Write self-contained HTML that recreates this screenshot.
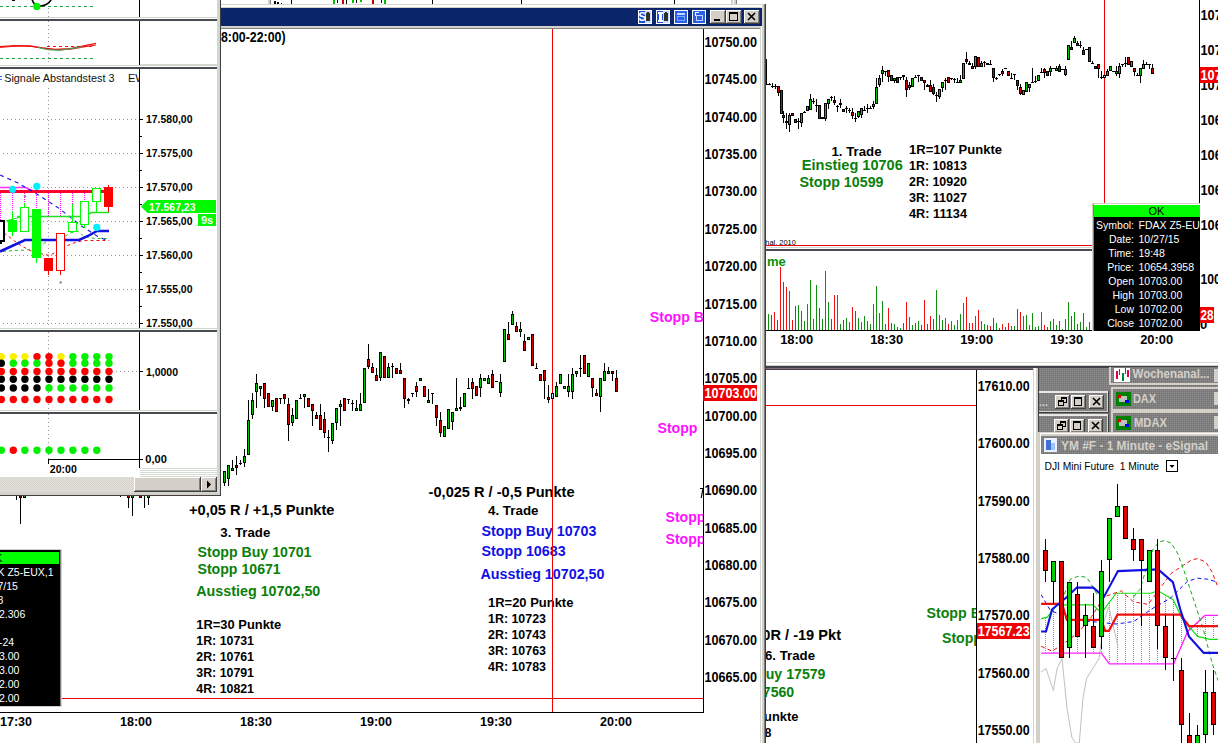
<!DOCTYPE html>
<html><head><meta charset="utf-8"><title>Charts</title>
<style>html,body{margin:0;padding:0;background:#fff;overflow:hidden}svg{display:block;font-family:"Liberation Sans",sans-serif}rect{shape-rendering:crispEdges}</style></head>
<body>
<svg width="1218" height="743" viewBox="0 0 1218 743">
<defs>
<pattern id="navy" width="4" height="4" patternUnits="userSpaceOnUse"><rect width="4" height="4" fill="#0a246a"/><rect x="1" y="1" width="1" height="1" fill="#16308a"/><rect x="3" y="3" width="1" height="1" fill="#16308a"/></pattern>
<pattern id="mdi" width="2" height="2" patternUnits="userSpaceOnUse"><rect width="2" height="2" fill="#808080"/><rect x="0" y="0" width="1" height="1" fill="#8c8c8c"/><rect x="1" y="1" width="1" height="1" fill="#747474"/></pattern>
<pattern id="track" width="2" height="2" patternUnits="userSpaceOnUse"><rect width="2" height="2" fill="#e6e4df"/><rect x="0" y="0" width="1" height="1" fill="#d4d0c8"/><rect x="1" y="1" width="1" height="1" fill="#d4d0c8"/></pattern>
<clipPath id="clipLR"><rect x="766" y="367" width="210" height="376"/></clipPath><clipPath id="clipYM"><rect x="1041" y="474" width="177" height="269"/></clipPath><clipPath id="clipM"><rect x="0" y="29" width="703" height="683"/></clipPath><clipPath id="clipEV"><rect x="0" y="69" width="139" height="260"/></clipPath></defs>
<rect x="1104" y="0" width="1" height="204" fill="#f00000" />
<rect x="855" y="113" width="1" height="9" fill="#000" />
<rect x="854" y="118" width="3" height="1" fill="#000" />
<rect x="852" y="108" width="1" height="11" fill="#000" />
<rect x="851" y="112" width="3" height="4" fill="#000" />
<rect x="852" y="113" width="1" height="2" fill="#d40000" />
<rect x="849" y="108" width="1" height="5" fill="#000" />
<rect x="848" y="110" width="3" height="1" fill="#000" />
<rect x="846" y="106" width="1" height="7" fill="#000" />
<rect x="845" y="108" width="3" height="1" fill="#000" />
<rect x="843" y="109" width="1" height="3" fill="#000" />
<rect x="842" y="109" width="3" height="3" fill="#000" />
<rect x="843" y="110" width="1" height="1" fill="#d40000" />
<rect x="840" y="99" width="1" height="9" fill="#000" />
<rect x="839" y="103" width="3" height="2" fill="#000" />
<rect x="837" y="105" width="1" height="7" fill="#000" />
<rect x="836" y="106" width="3" height="1" fill="#000" />
<rect x="834" y="96" width="1" height="9" fill="#000" />
<rect x="833" y="100" width="3" height="3" fill="#000" />
<rect x="834" y="101" width="1" height="1" fill="#d40000" />
<rect x="831" y="96" width="1" height="5" fill="#000" />
<rect x="830" y="97" width="3" height="1" fill="#000" />
<rect x="828" y="99" width="1" height="10" fill="#000" />
<rect x="827" y="99" width="3" height="5" fill="#000" />
<rect x="828" y="100" width="1" height="3" fill="#00c400" />
<rect x="825" y="103" width="1" height="18" fill="#000" />
<rect x="824" y="103" width="3" height="16" fill="#000" />
<rect x="825" y="104" width="1" height="14" fill="#00c400" />
<rect x="822" y="117" width="1" height="2" fill="#000" />
<rect x="821" y="117" width="3" height="2" fill="#000" />
<rect x="819" y="105" width="1" height="14" fill="#000" />
<rect x="818" y="105" width="3" height="14" fill="#000" />
<rect x="819" y="106" width="1" height="12" fill="#d40000" />
<rect x="816" y="99" width="1" height="13" fill="#000" />
<rect x="815" y="105" width="3" height="1" fill="#000" />
<rect x="813" y="98" width="1" height="6" fill="#000" />
<rect x="812" y="101" width="3" height="1" fill="#000" />
<rect x="810" y="94" width="1" height="16" fill="#000" />
<rect x="809" y="99" width="3" height="11" fill="#000" />
<rect x="810" y="100" width="1" height="9" fill="#00c400" />
<rect x="807" y="106" width="1" height="5" fill="#000" />
<rect x="806" y="106" width="3" height="5" fill="#000" />
<rect x="807" y="107" width="1" height="3" fill="#00c400" />
<rect x="804" y="111" width="1" height="2" fill="#000" />
<rect x="803" y="112" width="3" height="1" fill="#000" />
<rect x="801" y="113" width="1" height="14" fill="#000" />
<rect x="800" y="113" width="3" height="10" fill="#000" />
<rect x="801" y="114" width="1" height="8" fill="#00c400" />
<rect x="798" y="118" width="1" height="11" fill="#000" />
<rect x="797" y="121" width="3" height="1" fill="#000" />
<rect x="795" y="119" width="1" height="4" fill="#000" />
<rect x="794" y="119" width="3" height="4" fill="#000" />
<rect x="795" y="120" width="1" height="2" fill="#d40000" />
<rect x="792" y="113" width="1" height="3" fill="#000" />
<rect x="791" y="113" width="3" height="3" fill="#000" />
<rect x="792" y="114" width="1" height="1" fill="#d40000" />
<rect x="789" y="113" width="1" height="19" fill="#000" />
<rect x="788" y="115" width="3" height="10" fill="#000" />
<rect x="789" y="116" width="1" height="8" fill="#00c400" />
<rect x="786" y="113" width="1" height="16" fill="#000" />
<rect x="785" y="121" width="3" height="2" fill="#000" />
<rect x="783" y="111" width="1" height="12" fill="#000" />
<rect x="782" y="115" width="3" height="3" fill="#000" />
<rect x="783" y="116" width="1" height="1" fill="#d40000" />
<rect x="781" y="90" width="1" height="24" fill="#000" />
<rect x="780" y="90" width="3" height="24" fill="#000" />
<rect x="781" y="91" width="1" height="22" fill="#d40000" />
<rect x="778" y="86" width="1" height="10" fill="#000" />
<rect x="777" y="86" width="3" height="7" fill="#000" />
<rect x="778" y="87" width="1" height="5" fill="#d40000" />
<rect x="775" y="84" width="1" height="5" fill="#000" />
<rect x="774" y="86" width="3" height="1" fill="#000" />
<rect x="772" y="83" width="1" height="5" fill="#000" />
<rect x="771" y="86" width="3" height="1" fill="#000" />
<rect x="769" y="83" width="1" height="2" fill="#000" />
<rect x="768" y="84" width="3" height="1" fill="#000" />
<rect x="766" y="59" width="1" height="25" fill="#000" />
<rect x="765" y="84" width="3" height="1" fill="#000" />
<rect x="858" y="111" width="1" height="7" fill="#000" />
<rect x="857" y="111" width="3" height="6" fill="#000" />
<rect x="858" y="112" width="1" height="4" fill="#00c400" />
<rect x="861" y="108" width="1" height="10" fill="#000" />
<rect x="860" y="108" width="3" height="7" fill="#000" />
<rect x="861" y="109" width="1" height="5" fill="#00c400" />
<rect x="864" y="106" width="1" height="5" fill="#000" />
<rect x="863" y="110" width="3" height="1" fill="#000" />
<rect x="867" y="104" width="1" height="9" fill="#000" />
<rect x="866" y="108" width="3" height="1" fill="#000" />
<rect x="870" y="106" width="1" height="2" fill="#000" />
<rect x="869" y="108" width="3" height="1" fill="#000" />
<rect x="873" y="101" width="1" height="8" fill="#000" />
<rect x="872" y="104" width="3" height="3" fill="#000" />
<rect x="873" y="105" width="1" height="1" fill="#00c400" />
<rect x="876" y="78" width="1" height="26" fill="#000" />
<rect x="875" y="87" width="3" height="17" fill="#000" />
<rect x="876" y="88" width="1" height="15" fill="#00c400" />
<rect x="879" y="75" width="1" height="12" fill="#000" />
<rect x="878" y="78" width="3" height="7" fill="#000" />
<rect x="879" y="79" width="1" height="5" fill="#00c400" />
<rect x="882" y="66" width="1" height="16" fill="#000" />
<rect x="881" y="70" width="3" height="4" fill="#000" />
<rect x="882" y="71" width="1" height="2" fill="#00c400" />
<rect x="885" y="71" width="1" height="5" fill="#000" />
<rect x="884" y="71" width="3" height="1" fill="#000" />
<rect x="888" y="70" width="1" height="12" fill="#000" />
<rect x="887" y="70" width="3" height="7" fill="#000" />
<rect x="888" y="71" width="1" height="5" fill="#d40000" />
<rect x="891" y="75" width="1" height="6" fill="#000" />
<rect x="890" y="75" width="3" height="6" fill="#000" />
<rect x="891" y="76" width="1" height="4" fill="#d40000" />
<rect x="894" y="78" width="1" height="5" fill="#000" />
<rect x="893" y="78" width="3" height="3" fill="#000" />
<rect x="894" y="79" width="1" height="1" fill="#00c400" />
<rect x="897" y="77" width="1" height="6" fill="#000" />
<rect x="896" y="77" width="3" height="6" fill="#000" />
<rect x="897" y="78" width="1" height="4" fill="#d40000" />
<rect x="900" y="77" width="1" height="3" fill="#000" />
<rect x="899" y="77" width="3" height="1" fill="#000" />
<rect x="903" y="75" width="1" height="5" fill="#000" />
<rect x="902" y="75" width="3" height="2" fill="#000" />
<rect x="906" y="77" width="1" height="20" fill="#000" />
<rect x="905" y="80" width="3" height="10" fill="#000" />
<rect x="906" y="81" width="1" height="8" fill="#d40000" />
<rect x="909" y="82" width="1" height="8" fill="#000" />
<rect x="908" y="85" width="3" height="3" fill="#000" />
<rect x="909" y="86" width="1" height="1" fill="#00c400" />
<rect x="912" y="78" width="1" height="9" fill="#000" />
<rect x="911" y="78" width="3" height="9" fill="#000" />
<rect x="912" y="79" width="1" height="7" fill="#00c400" />
<rect x="915" y="75" width="1" height="3" fill="#000" />
<rect x="914" y="77" width="3" height="1" fill="#000" />
<rect x="918" y="75" width="1" height="7" fill="#000" />
<rect x="917" y="75" width="3" height="1" fill="#000" />
<rect x="921" y="77" width="1" height="4" fill="#000" />
<rect x="920" y="77" width="3" height="4" fill="#000" />
<rect x="921" y="78" width="1" height="2" fill="#d40000" />
<rect x="924" y="80" width="1" height="10" fill="#000" />
<rect x="923" y="80" width="3" height="3" fill="#000" />
<rect x="924" y="81" width="1" height="1" fill="#d40000" />
<rect x="927" y="84" width="1" height="3" fill="#000" />
<rect x="926" y="85" width="3" height="2" fill="#000" />
<rect x="930" y="80" width="1" height="12" fill="#000" />
<rect x="929" y="85" width="3" height="7" fill="#000" />
<rect x="930" y="86" width="1" height="5" fill="#d40000" />
<rect x="933" y="84" width="1" height="11" fill="#000" />
<rect x="932" y="87" width="3" height="7" fill="#000" />
<rect x="933" y="88" width="1" height="5" fill="#d40000" />
<rect x="936" y="92" width="1" height="10" fill="#000" />
<rect x="935" y="95" width="3" height="1" fill="#000" />
<rect x="939" y="89" width="1" height="10" fill="#000" />
<rect x="938" y="89" width="3" height="8" fill="#000" />
<rect x="939" y="90" width="1" height="6" fill="#00c400" />
<rect x="942" y="82" width="1" height="10" fill="#000" />
<rect x="941" y="82" width="3" height="6" fill="#000" />
<rect x="942" y="83" width="1" height="4" fill="#00c400" />
<rect x="945" y="78" width="1" height="12" fill="#000" />
<rect x="944" y="80" width="3" height="1" fill="#000" />
<rect x="948" y="77" width="1" height="6" fill="#000" />
<rect x="947" y="77" width="3" height="6" fill="#000" />
<rect x="948" y="78" width="1" height="4" fill="#d40000" />
<rect x="951" y="78" width="1" height="2" fill="#000" />
<rect x="950" y="78" width="3" height="1" fill="#000" />
<rect x="954" y="78" width="1" height="5" fill="#000" />
<rect x="953" y="79" width="3" height="1" fill="#000" />
<rect x="957" y="78" width="1" height="5" fill="#000" />
<rect x="956" y="82" width="3" height="1" fill="#000" />
<rect x="960" y="75" width="1" height="8" fill="#000" />
<rect x="959" y="80" width="3" height="3" fill="#000" />
<rect x="960" y="81" width="1" height="1" fill="#00c400" />
<rect x="963" y="63" width="1" height="16" fill="#000" />
<rect x="962" y="63" width="3" height="16" fill="#000" />
<rect x="963" y="64" width="1" height="14" fill="#00c400" />
<rect x="966" y="52" width="1" height="12" fill="#000" />
<rect x="965" y="59" width="3" height="3" fill="#000" />
<rect x="966" y="60" width="1" height="1" fill="#d40000" />
<rect x="969" y="61" width="1" height="4" fill="#000" />
<rect x="968" y="63" width="3" height="2" fill="#000" />
<rect x="972" y="63" width="1" height="6" fill="#000" />
<rect x="971" y="66" width="3" height="3" fill="#000" />
<rect x="972" y="67" width="1" height="1" fill="#d40000" />
<rect x="975" y="56" width="1" height="13" fill="#000" />
<rect x="974" y="56" width="3" height="11" fill="#000" />
<rect x="975" y="57" width="1" height="9" fill="#00c400" />
<rect x="978" y="57" width="1" height="10" fill="#000" />
<rect x="977" y="57" width="3" height="10" fill="#000" />
<rect x="978" y="58" width="1" height="8" fill="#d40000" />
<rect x="981" y="61" width="1" height="6" fill="#000" />
<rect x="980" y="63" width="3" height="4" fill="#000" />
<rect x="981" y="64" width="1" height="2" fill="#00c400" />
<rect x="984" y="61" width="1" height="6" fill="#000" />
<rect x="983" y="62" width="3" height="1" fill="#000" />
<rect x="987" y="63" width="1" height="2" fill="#000" />
<rect x="986" y="63" width="3" height="2" fill="#000" />
<rect x="990" y="60" width="1" height="5" fill="#000" />
<rect x="989" y="64" width="3" height="1" fill="#000" />
<rect x="993" y="68" width="1" height="14" fill="#000" />
<rect x="992" y="68" width="3" height="10" fill="#000" />
<rect x="993" y="69" width="1" height="8" fill="#d40000" />
<rect x="996" y="77" width="1" height="3" fill="#000" />
<rect x="995" y="78" width="3" height="1" fill="#000" />
<rect x="999" y="74" width="1" height="2" fill="#000" />
<rect x="998" y="74" width="3" height="1" fill="#000" />
<rect x="1002" y="69" width="1" height="7" fill="#000" />
<rect x="1001" y="71" width="3" height="3" fill="#000" />
<rect x="1002" y="72" width="1" height="1" fill="#d40000" />
<rect x="1005" y="68" width="1" height="1" fill="#000" />
<rect x="1004" y="68" width="3" height="1" fill="#000" />
<rect x="1008" y="71" width="1" height="5" fill="#000" />
<rect x="1007" y="71" width="3" height="5" fill="#000" />
<rect x="1008" y="72" width="1" height="3" fill="#d40000" />
<rect x="1011" y="73" width="1" height="6" fill="#000" />
<rect x="1010" y="78" width="3" height="1" fill="#000" />
<rect x="1014" y="74" width="1" height="6" fill="#000" />
<rect x="1013" y="74" width="3" height="1" fill="#000" />
<rect x="1017" y="80" width="1" height="10" fill="#000" />
<rect x="1016" y="80" width="3" height="6" fill="#000" />
<rect x="1017" y="81" width="1" height="4" fill="#d40000" />
<rect x="1020" y="84" width="1" height="11" fill="#000" />
<rect x="1019" y="87" width="3" height="7" fill="#000" />
<rect x="1020" y="88" width="1" height="5" fill="#d40000" />
<rect x="1023" y="90" width="1" height="5" fill="#000" />
<rect x="1022" y="90" width="3" height="5" fill="#000" />
<rect x="1023" y="91" width="1" height="3" fill="#00c400" />
<rect x="1026" y="82" width="1" height="10" fill="#000" />
<rect x="1025" y="82" width="3" height="10" fill="#000" />
<rect x="1026" y="83" width="1" height="8" fill="#00c400" />
<rect x="1029" y="84" width="1" height="8" fill="#000" />
<rect x="1028" y="84" width="3" height="4" fill="#000" />
<rect x="1029" y="85" width="1" height="2" fill="#00c400" />
<rect x="1032" y="68" width="1" height="15" fill="#000" />
<rect x="1031" y="82" width="3" height="1" fill="#000" />
<rect x="1035" y="76" width="1" height="7" fill="#000" />
<rect x="1034" y="81" width="3" height="1" fill="#000" />
<rect x="1038" y="75" width="1" height="6" fill="#000" />
<rect x="1037" y="75" width="3" height="6" fill="#000" />
<rect x="1038" y="76" width="1" height="4" fill="#00c400" />
<rect x="1041" y="68" width="1" height="5" fill="#000" />
<rect x="1040" y="72" width="3" height="1" fill="#000" />
<rect x="1044" y="68" width="1" height="10" fill="#000" />
<rect x="1043" y="69" width="3" height="4" fill="#000" />
<rect x="1044" y="70" width="1" height="2" fill="#d40000" />
<rect x="1047" y="71" width="1" height="5" fill="#000" />
<rect x="1046" y="71" width="3" height="5" fill="#000" />
<rect x="1047" y="72" width="1" height="3" fill="#d40000" />
<rect x="1050" y="66" width="1" height="10" fill="#000" />
<rect x="1049" y="68" width="3" height="4" fill="#000" />
<rect x="1050" y="69" width="1" height="2" fill="#00c400" />
<rect x="1053" y="68" width="1" height="1" fill="#000" />
<rect x="1052" y="68" width="3" height="1" fill="#000" />
<rect x="1056" y="66" width="1" height="5" fill="#000" />
<rect x="1055" y="68" width="3" height="3" fill="#000" />
<rect x="1056" y="69" width="1" height="1" fill="#00c400" />
<rect x="1059" y="64" width="1" height="8" fill="#000" />
<rect x="1058" y="66" width="3" height="6" fill="#000" />
<rect x="1059" y="67" width="1" height="4" fill="#d40000" />
<rect x="1062" y="69" width="1" height="1" fill="#000" />
<rect x="1061" y="69" width="3" height="1" fill="#000" />
<rect x="1065" y="66" width="1" height="10" fill="#000" />
<rect x="1064" y="69" width="3" height="6" fill="#000" />
<rect x="1065" y="70" width="1" height="4" fill="#00c400" />
<rect x="1068" y="45" width="1" height="15" fill="#000" />
<rect x="1067" y="45" width="3" height="15" fill="#000" />
<rect x="1068" y="46" width="1" height="13" fill="#00c400" />
<rect x="1071" y="41" width="1" height="9" fill="#000" />
<rect x="1070" y="47" width="3" height="3" fill="#000" />
<rect x="1071" y="48" width="1" height="1" fill="#d40000" />
<rect x="1074" y="36" width="1" height="7" fill="#000" />
<rect x="1073" y="38" width="3" height="5" fill="#000" />
<rect x="1074" y="39" width="1" height="3" fill="#00c400" />
<rect x="1077" y="41" width="1" height="5" fill="#000" />
<rect x="1076" y="43" width="3" height="3" fill="#000" />
<rect x="1077" y="44" width="1" height="1" fill="#d40000" />
<rect x="1080" y="41" width="1" height="7" fill="#000" />
<rect x="1079" y="45" width="3" height="1" fill="#000" />
<rect x="1083" y="47" width="1" height="8" fill="#000" />
<rect x="1082" y="50" width="3" height="5" fill="#000" />
<rect x="1083" y="51" width="1" height="3" fill="#d40000" />
<rect x="1086" y="49" width="1" height="1" fill="#000" />
<rect x="1085" y="49" width="3" height="1" fill="#000" />
<rect x="1089" y="47" width="1" height="15" fill="#000" />
<rect x="1088" y="47" width="3" height="15" fill="#000" />
<rect x="1089" y="48" width="1" height="13" fill="#d40000" />
<rect x="1092" y="61" width="1" height="2" fill="#000" />
<rect x="1091" y="63" width="3" height="1" fill="#000" />
<rect x="1095" y="66" width="1" height="3" fill="#000" />
<rect x="1094" y="66" width="3" height="3" fill="#000" />
<rect x="1095" y="67" width="1" height="1" fill="#d40000" />
<rect x="1098" y="64" width="1" height="14" fill="#000" />
<rect x="1097" y="64" width="3" height="5" fill="#000" />
<rect x="1098" y="65" width="1" height="3" fill="#d40000" />
<rect x="1101" y="71" width="1" height="8" fill="#000" />
<rect x="1100" y="77" width="3" height="1" fill="#000" />
<rect x="1104" y="75" width="1" height="3" fill="#000" />
<rect x="1103" y="75" width="3" height="3" fill="#000" />
<rect x="1104" y="76" width="1" height="1" fill="#c0e8ff" />
<rect x="1107" y="69" width="1" height="7" fill="#000" />
<rect x="1106" y="71" width="3" height="5" fill="#000" />
<rect x="1107" y="72" width="1" height="3" fill="#00c400" />
<rect x="1110" y="66" width="1" height="5" fill="#000" />
<rect x="1109" y="66" width="3" height="5" fill="#000" />
<rect x="1110" y="67" width="1" height="3" fill="#00c400" />
<rect x="1113" y="71" width="1" height="1" fill="#000" />
<rect x="1112" y="71" width="3" height="1" fill="#000" />
<rect x="1116" y="66" width="1" height="10" fill="#000" />
<rect x="1115" y="71" width="3" height="3" fill="#000" />
<rect x="1116" y="72" width="1" height="1" fill="#00c400" />
<rect x="1119" y="63" width="1" height="15" fill="#000" />
<rect x="1118" y="66" width="3" height="8" fill="#000" />
<rect x="1119" y="67" width="1" height="6" fill="#00c400" />
<rect x="1122" y="64" width="1" height="3" fill="#000" />
<rect x="1121" y="64" width="3" height="1" fill="#000" />
<rect x="1125" y="57" width="1" height="10" fill="#000" />
<rect x="1124" y="63" width="3" height="1" fill="#000" />
<rect x="1128" y="57" width="1" height="8" fill="#000" />
<rect x="1127" y="57" width="3" height="8" fill="#000" />
<rect x="1128" y="58" width="1" height="6" fill="#d40000" />
<rect x="1131" y="61" width="1" height="6" fill="#000" />
<rect x="1130" y="61" width="3" height="6" fill="#000" />
<rect x="1131" y="62" width="1" height="4" fill="#00c400" />
<rect x="1134" y="68" width="1" height="8" fill="#000" />
<rect x="1133" y="68" width="3" height="4" fill="#000" />
<rect x="1134" y="69" width="1" height="2" fill="#d40000" />
<rect x="1137" y="73" width="1" height="3" fill="#000" />
<rect x="1136" y="75" width="3" height="1" fill="#000" />
<rect x="1140" y="68" width="1" height="15" fill="#000" />
<rect x="1139" y="68" width="3" height="8" fill="#000" />
<rect x="1140" y="69" width="1" height="6" fill="#00c400" />
<rect x="1143" y="60" width="1" height="9" fill="#000" />
<rect x="1142" y="64" width="3" height="5" fill="#000" />
<rect x="1143" y="65" width="1" height="3" fill="#00c400" />
<rect x="1146" y="62" width="1" height="3" fill="#000" />
<rect x="1145" y="64" width="3" height="1" fill="#000" />
<rect x="1149" y="64" width="1" height="5" fill="#000" />
<rect x="1148" y="64" width="3" height="1" fill="#000" />
<rect x="1152" y="64" width="1" height="10" fill="#000" />
<rect x="1151" y="68" width="3" height="6" fill="#000" />
<rect x="1152" y="69" width="1" height="4" fill="#d40000" />
<text x="831.5" y="156.314" font-size="13.65" font-weight="bold" fill="#000" text-anchor="start" textLength="50" lengthAdjust="spacingAndGlyphs" >1. Trade</text>
<text x="801.8" y="170.34" font-size="14.91" font-weight="bold" fill="#0a800a" text-anchor="start" textLength="101" lengthAdjust="spacingAndGlyphs" >Einstieg 10706</text>
<text x="799.5" y="187.04" font-size="14.91" font-weight="bold" fill="#0a800a" text-anchor="start" textLength="84" lengthAdjust="spacingAndGlyphs" >Stopp 10599</text>
<text x="909" y="153.614" font-size="13.65" font-weight="bold" fill="#000" text-anchor="start" textLength="93" lengthAdjust="spacingAndGlyphs" >1R=107 Punkte</text>
<text x="909" y="169.614" font-size="13.65" font-weight="bold" fill="#000" text-anchor="start" textLength="58" lengthAdjust="spacingAndGlyphs" >1R: 10813</text>
<text x="909" y="185.614" font-size="13.65" font-weight="bold" fill="#000" text-anchor="start" textLength="58" lengthAdjust="spacingAndGlyphs" >2R: 10920</text>
<text x="909" y="201.614" font-size="13.65" font-weight="bold" fill="#000" text-anchor="start" textLength="58" lengthAdjust="spacingAndGlyphs" >3R: 11027</text>
<text x="909" y="217.614" font-size="13.65" font-weight="bold" fill="#000" text-anchor="start" textLength="58" lengthAdjust="spacingAndGlyphs" >4R: 11134</text>
<text x="765.3" y="244.504" font-size="8" font-weight="normal" fill="#000" text-anchor="start" textLength="30.5" lengthAdjust="spacingAndGlyphs" >hal, 2010</text>
<rect x="765" y="245" width="435" height="1" fill="#f00000" />
<rect x="765" y="247" width="435" height="1" fill="#d0d8d0" />
<rect x="765" y="249" width="435" height="2" fill="#4a4a52" />
<text x="767" y="266.094" font-size="13" font-weight="bold" fill="#0a900a" text-anchor="start" >me</text>
<rect x="768" y="314" width="1" height="16" fill="#109010" />
<rect x="771" y="315" width="1" height="15" fill="#f01010" />
<rect x="774" y="312" width="1" height="18" fill="#f01010" />
<rect x="777" y="320" width="1" height="10" fill="#f01010" />
<rect x="780" y="267" width="1" height="63" fill="#f01010" />
<rect x="783" y="282" width="1" height="48" fill="#f01010" />
<rect x="786" y="287" width="1" height="43" fill="#f01010" />
<rect x="789" y="291" width="1" height="39" fill="#109010" />
<rect x="792" y="320" width="1" height="10" fill="#f01010" />
<rect x="795" y="306" width="1" height="24" fill="#f01010" />
<rect x="798" y="305" width="1" height="25" fill="#109010" />
<rect x="801" y="311" width="1" height="19" fill="#109010" />
<rect x="804" y="321" width="1" height="9" fill="#109010" />
<rect x="807" y="304" width="1" height="26" fill="#109010" />
<rect x="810" y="280" width="1" height="50" fill="#109010" />
<rect x="813" y="319" width="1" height="11" fill="#109010" />
<rect x="816" y="285" width="1" height="45" fill="#109010" />
<rect x="819" y="308" width="1" height="22" fill="#f01010" />
<rect x="822" y="319" width="1" height="11" fill="#109010" />
<rect x="825" y="271" width="1" height="59" fill="#109010" />
<rect x="828" y="302" width="1" height="28" fill="#109010" />
<rect x="831" y="319" width="1" height="11" fill="#f01010" />
<rect x="834" y="295" width="1" height="35" fill="#f01010" />
<rect x="837" y="295" width="1" height="35" fill="#109010" />
<rect x="840" y="324" width="1" height="6" fill="#109010" />
<rect x="843" y="320" width="1" height="10" fill="#f01010" />
<rect x="846" y="318" width="1" height="12" fill="#109010" />
<rect x="849" y="322" width="1" height="8" fill="#109010" />
<rect x="852" y="307" width="1" height="23" fill="#f01010" />
<rect x="855" y="311" width="1" height="19" fill="#f01010" />
<rect x="858" y="318" width="1" height="12" fill="#109010" />
<rect x="861" y="322" width="1" height="8" fill="#109010" />
<rect x="864" y="316" width="1" height="14" fill="#109010" />
<rect x="867" y="321" width="1" height="9" fill="#f01010" />
<rect x="870" y="324" width="1" height="6" fill="#109010" />
<rect x="873" y="304" width="1" height="26" fill="#109010" />
<rect x="876" y="286" width="1" height="44" fill="#109010" />
<rect x="879" y="313" width="1" height="17" fill="#109010" />
<rect x="882" y="301" width="1" height="29" fill="#109010" />
<rect x="885" y="324" width="1" height="6" fill="#109010" />
<rect x="888" y="308" width="1" height="22" fill="#f01010" />
<rect x="891" y="323" width="1" height="7" fill="#f01010" />
<rect x="894" y="324" width="1" height="6" fill="#109010" />
<rect x="897" y="327" width="1" height="3" fill="#f01010" />
<rect x="900" y="328" width="1" height="2" fill="#109010" />
<rect x="903" y="323" width="1" height="7" fill="#f01010" />
<rect x="906" y="302" width="1" height="28" fill="#f01010" />
<rect x="909" y="317" width="1" height="13" fill="#109010" />
<rect x="912" y="325" width="1" height="5" fill="#109010" />
<rect x="915" y="323" width="1" height="7" fill="#f01010" />
<rect x="918" y="321" width="1" height="9" fill="#109010" />
<rect x="921" y="325" width="1" height="5" fill="#f01010" />
<rect x="924" y="300" width="1" height="30" fill="#f01010" />
<rect x="927" y="324" width="1" height="6" fill="#f01010" />
<rect x="930" y="316" width="1" height="14" fill="#f01010" />
<rect x="933" y="319" width="1" height="11" fill="#f01010" />
<rect x="936" y="290" width="1" height="40" fill="#109010" />
<rect x="939" y="315" width="1" height="15" fill="#109010" />
<rect x="942" y="320" width="1" height="10" fill="#109010" />
<rect x="945" y="318" width="1" height="12" fill="#109010" />
<rect x="948" y="324" width="1" height="6" fill="#f01010" />
<rect x="951" y="321" width="1" height="9" fill="#109010" />
<rect x="954" y="325" width="1" height="5" fill="#109010" />
<rect x="957" y="320" width="1" height="10" fill="#109010" />
<rect x="960" y="314" width="1" height="16" fill="#109010" />
<rect x="963" y="303" width="1" height="27" fill="#109010" />
<rect x="966" y="297" width="1" height="33" fill="#f01010" />
<rect x="969" y="323" width="1" height="7" fill="#f01010" />
<rect x="972" y="323" width="1" height="7" fill="#f01010" />
<rect x="975" y="316" width="1" height="14" fill="#109010" />
<rect x="978" y="310" width="1" height="20" fill="#f01010" />
<rect x="981" y="321" width="1" height="9" fill="#109010" />
<rect x="984" y="324" width="1" height="6" fill="#109010" />
<rect x="987" y="325" width="1" height="5" fill="#f01010" />
<rect x="990" y="326" width="1" height="4" fill="#f01010" />
<rect x="993" y="318" width="1" height="12" fill="#f01010" />
<rect x="996" y="323" width="1" height="7" fill="#109010" />
<rect x="999" y="328" width="1" height="2" fill="#109010" />
<rect x="1002" y="324" width="1" height="6" fill="#f01010" />
<rect x="1005" y="327" width="1" height="3" fill="#109010" />
<rect x="1008" y="323" width="1" height="7" fill="#f01010" />
<rect x="1011" y="326" width="1" height="4" fill="#109010" />
<rect x="1014" y="326" width="1" height="4" fill="#109010" />
<rect x="1017" y="309" width="1" height="21" fill="#f01010" />
<rect x="1020" y="312" width="1" height="18" fill="#f01010" />
<rect x="1023" y="316" width="1" height="14" fill="#109010" />
<rect x="1026" y="315" width="1" height="15" fill="#109010" />
<rect x="1029" y="325" width="1" height="5" fill="#109010" />
<rect x="1032" y="313" width="1" height="17" fill="#109010" />
<rect x="1035" y="327" width="1" height="3" fill="#109010" />
<rect x="1038" y="326" width="1" height="4" fill="#109010" />
<rect x="1041" y="312" width="1" height="18" fill="#109010" />
<rect x="1044" y="325" width="1" height="5" fill="#f01010" />
<rect x="1047" y="327" width="1" height="3" fill="#f01010" />
<rect x="1050" y="321" width="1" height="9" fill="#109010" />
<rect x="1053" y="319" width="1" height="11" fill="#109010" />
<rect x="1056" y="325" width="1" height="5" fill="#109010" />
<rect x="1059" y="321" width="1" height="9" fill="#f01010" />
<rect x="1062" y="329" width="1" height="1" fill="#109010" />
<rect x="1065" y="319" width="1" height="11" fill="#109010" />
<rect x="1068" y="302" width="1" height="28" fill="#109010" />
<rect x="1071" y="316" width="1" height="14" fill="#f01010" />
<rect x="1074" y="312" width="1" height="18" fill="#109010" />
<rect x="1077" y="324" width="1" height="6" fill="#f01010" />
<rect x="1080" y="322" width="1" height="8" fill="#109010" />
<rect x="1083" y="313" width="1" height="17" fill="#f01010" />
<rect x="1086" y="327" width="1" height="3" fill="#109010" />
<rect x="1089" y="322" width="1" height="8" fill="#f01010" />
<rect x="765" y="330" width="435" height="1" fill="#000" />
<text x="796.7" y="344.414" font-size="13.65" font-weight="bold" fill="#000" text-anchor="middle" textLength="33" lengthAdjust="spacingAndGlyphs" >18:00</text>
<text x="886.7" y="344.414" font-size="13.65" font-weight="bold" fill="#000" text-anchor="middle" textLength="33" lengthAdjust="spacingAndGlyphs" >18:30</text>
<text x="976.7" y="344.414" font-size="13.65" font-weight="bold" fill="#000" text-anchor="middle" textLength="33" lengthAdjust="spacingAndGlyphs" >19:00</text>
<text x="1066.7" y="344.414" font-size="13.65" font-weight="bold" fill="#000" text-anchor="middle" textLength="33" lengthAdjust="spacingAndGlyphs" >19:30</text>
<text x="1156.7" y="344.414" font-size="13.65" font-weight="bold" fill="#000" text-anchor="middle" textLength="33" lengthAdjust="spacingAndGlyphs" >20:00</text>
<rect x="1199" y="0" width="1" height="331" fill="#000" />
<text x="1200.5" y="20.2751" font-size="15.015" font-weight="bold" fill="#000" text-anchor="start" textLength="53" lengthAdjust="spacingAndGlyphs" >10720.00</text>
<text x="1200.5" y="54.7751" font-size="15.015" font-weight="bold" fill="#000" text-anchor="start" textLength="53" lengthAdjust="spacingAndGlyphs" >10720.00</text>
<text x="1200.5" y="90.2751" font-size="15.015" font-weight="bold" fill="#000" text-anchor="start" textLength="53" lengthAdjust="spacingAndGlyphs" >10720.00</text>
<text x="1200.5" y="124.775" font-size="15.015" font-weight="bold" fill="#000" text-anchor="start" textLength="53" lengthAdjust="spacingAndGlyphs" >10620.00</text>
<text x="1200.5" y="159.775" font-size="15.015" font-weight="bold" fill="#000" text-anchor="start" textLength="53" lengthAdjust="spacingAndGlyphs" >10620.00</text>
<text x="1200.5" y="194.775" font-size="15.015" font-weight="bold" fill="#000" text-anchor="start" textLength="53" lengthAdjust="spacingAndGlyphs" >10620.00</text>
<text x="1200.5" y="229.775" font-size="15.015" font-weight="bold" fill="#000" text-anchor="start" textLength="53" lengthAdjust="spacingAndGlyphs" >10620.00</text>
<rect x="1200" y="67" width="18" height="16" fill="#f00000" />
<text x="1200.5" y="80.2751" font-size="15.015" font-weight="bold" fill="#fff" text-anchor="start" textLength="53" lengthAdjust="spacingAndGlyphs" >10703.00</text>
<text x="1200.5" y="284.075" font-size="15.015" font-weight="bold" fill="#000" text-anchor="start" textLength="27" lengthAdjust="spacingAndGlyphs" >1000</text>
<text x="1200" y="328.894" font-size="13" font-weight="bold" fill="#000" text-anchor="start" >0</text>
<rect x="1200" y="307" width="14" height="16" fill="#f00000" />
<text x="1200.5" y="320.375" font-size="15.015" font-weight="bold" fill="#fff" text-anchor="start" textLength="13" lengthAdjust="spacingAndGlyphs" >28</text>
<rect x="1092" y="203" width="108" height="128" fill="#000" />
<rect x="1092" y="203" width="108" height="1" fill="#d4d0c8" />
<rect x="1092" y="203" width="1" height="128" fill="#d4d0c8" />
<rect x="1093" y="204" width="107" height="1" fill="#fff" />
<rect x="1093" y="204" width="1" height="127" fill="#808080" />
<rect x="1094" y="205" width="106" height="12" fill="#00ff00" />
<text x="1156.5" y="215.018" font-size="11" font-weight="normal" fill="#000" text-anchor="middle" >OK</text>
<text x="1134" y="229.049" font-size="10.5" font-weight="normal" fill="#fff" text-anchor="end" >Symbol:</text>
<text x="1138.5" y="229.049" font-size="10.5" font-weight="normal" fill="#fff" text-anchor="start" >FDAX Z5-EU</text>
<text x="1134" y="242.849" font-size="10.5" font-weight="normal" fill="#fff" text-anchor="end" >Date:</text>
<text x="1138.5" y="242.849" font-size="10.5" font-weight="normal" fill="#fff" text-anchor="start" >10/27/15</text>
<text x="1134" y="256.749" font-size="10.5" font-weight="normal" fill="#fff" text-anchor="end" >Time:</text>
<text x="1138.5" y="256.749" font-size="10.5" font-weight="normal" fill="#fff" text-anchor="start" >19:48</text>
<text x="1134" y="270.749" font-size="10.5" font-weight="normal" fill="#fff" text-anchor="end" >Price:</text>
<text x="1138.5" y="270.749" font-size="10.5" font-weight="normal" fill="#fff" text-anchor="start" >10654.3958</text>
<text x="1134" y="284.649" font-size="10.5" font-weight="normal" fill="#fff" text-anchor="end" >Open</text>
<text x="1138.5" y="284.649" font-size="10.5" font-weight="normal" fill="#fff" text-anchor="start" >10703.00</text>
<text x="1134" y="298.749" font-size="10.5" font-weight="normal" fill="#fff" text-anchor="end" >High</text>
<text x="1138.5" y="298.749" font-size="10.5" font-weight="normal" fill="#fff" text-anchor="start" >10703.00</text>
<text x="1134" y="312.649" font-size="10.5" font-weight="normal" fill="#fff" text-anchor="end" >Low</text>
<text x="1138.5" y="312.649" font-size="10.5" font-weight="normal" fill="#fff" text-anchor="start" >10702.00</text>
<text x="1134" y="326.649" font-size="10.5" font-weight="normal" fill="#fff" text-anchor="end" >Close</text>
<text x="1138.5" y="326.649" font-size="10.5" font-weight="normal" fill="#fff" text-anchor="start" >10702.00</text>
<rect x="765" y="362" width="453" height="1" fill="#d0d8d0" />
<rect x="765" y="363" width="453" height="2" fill="#fff" />
<rect x="765" y="365" width="453" height="1" fill="#d4d0c8" />
<rect x="765" y="366" width="453" height="2" fill="#404048" />
<rect x="765" y="368" width="268" height="1" fill="#807080" />
<rect x="765" y="369" width="268" height="1" fill="#404040" />
<rect x="765" y="405" width="211" height="1" fill="#f00000" />
<rect x="976" y="370" width="1" height="373" fill="#000" />
<text x="977.7" y="391.169" font-size="14.7" font-weight="bold" fill="#000" text-anchor="start" textLength="52" lengthAdjust="spacingAndGlyphs" >17610.00</text>
<text x="977.7" y="448.469" font-size="14.7" font-weight="bold" fill="#000" text-anchor="start" textLength="52" lengthAdjust="spacingAndGlyphs" >17600.00</text>
<text x="977.7" y="505.869" font-size="14.7" font-weight="bold" fill="#000" text-anchor="start" textLength="52" lengthAdjust="spacingAndGlyphs" >17590.00</text>
<text x="977.7" y="563.169" font-size="14.7" font-weight="bold" fill="#000" text-anchor="start" textLength="52" lengthAdjust="spacingAndGlyphs" >17580.00</text>
<text x="977.7" y="620.469" font-size="14.7" font-weight="bold" fill="#000" text-anchor="start" textLength="52" lengthAdjust="spacingAndGlyphs" >17570.00</text>
<text x="977.7" y="677.869" font-size="14.7" font-weight="bold" fill="#000" text-anchor="start" textLength="52" lengthAdjust="spacingAndGlyphs" >17560.00</text>
<text x="977.7" y="735.169" font-size="14.7" font-weight="bold" fill="#000" text-anchor="start" textLength="52" lengthAdjust="spacingAndGlyphs" >17550.00</text>
<rect x="977" y="623" width="53" height="16" fill="#f00000" />
<text x="977.7" y="635.969" font-size="14.7" font-weight="bold" fill="#fff" text-anchor="start" textLength="52" lengthAdjust="spacingAndGlyphs" >17567.23</text>
<g clip-path="url(#clipLR)">
<text x="926.5" y="617.94" font-size="14.91" font-weight="bold" fill="#0a800a" text-anchor="start" textLength="71" lengthAdjust="spacingAndGlyphs" >Stopp Buy</text>
<text x="942" y="642.54" font-size="14.91" font-weight="bold" fill="#0a800a" text-anchor="start" textLength="40" lengthAdjust="spacingAndGlyphs" >Stopp</text>
<text x="841" y="639.935" font-size="14.6" font-weight="bold" fill="#000" text-anchor="end" >-1,00R / -19 Pkt</text>
<text x="815" y="660.414" font-size="13.65" font-weight="bold" fill="#000" text-anchor="end" textLength="50" lengthAdjust="spacingAndGlyphs" >6. Trade</text>
<text x="825.5" y="678.74" font-size="14.91" font-weight="bold" fill="#0a800a" text-anchor="end" textLength="114" lengthAdjust="spacingAndGlyphs" >Stopp Buy 17579</text>
<text x="794.2" y="697.24" font-size="14.91" font-weight="bold" fill="#0a800a" text-anchor="end" textLength="83" lengthAdjust="spacingAndGlyphs" >Stopp 17560</text>
<text x="798.5" y="721.014" font-size="13.65" font-weight="bold" fill="#000" text-anchor="end" textLength="85" lengthAdjust="spacingAndGlyphs" >1R=19 Punkte</text>
<text x="771.5" y="736.714" font-size="13.65" font-weight="bold" fill="#000" text-anchor="end" textLength="58" lengthAdjust="spacingAndGlyphs" >1R: 17598</text>
</g>
<rect x="1033" y="368" width="1" height="375" fill="#d0d8d0" />
<rect x="1034" y="368" width="2" height="375" fill="#fff" />
<rect x="1036" y="368" width="2" height="375" fill="#d4d0c8" />
<rect x="1038" y="368" width="1" height="64" fill="#404040" />
<rect x="1039" y="368" width="179" height="66" fill="url(#mdi)" />
<rect x="1109" y="367" width="109" height="17" fill="url(#mdi)" />
<rect x="1109" y="383" width="109" height="2" fill="#d4d0c8" />
<rect x="1109" y="367" width="2" height="18" fill="#d4d0c8" />
<rect x="1114" y="368" width="16" height="14" fill="#fff" />
<rect x="1116" y="371" width="2" height="8" fill="#e00050" />
<rect x="1119" y="369" width="1" height="6" fill="#e00050" />
<rect x="1122" y="373" width="2" height="8" fill="#008040" />
<rect x="1125" y="368" width="1" height="6" fill="#e00050" />
<rect x="1127" y="370" width="2" height="7" fill="#e00050" />
<text x="1132.5" y="378.459" font-size="12.6" font-weight="bold" fill="#d4d0c8" text-anchor="start" textLength="77" lengthAdjust="spacingAndGlyphs" >Wochenanal...</text>
<rect x="1214" y="369" width="4" height="13" fill="#d4d0c8" />
<rect x="1039" y="391" width="69" height="2" fill="#e8e8e4" />
<text x="1039" y="406.218" font-size="11" font-weight="bold" fill="#d4d0c8" text-anchor="start" >...</text>
<rect x="1055" y="395" width="15" height="14" fill="#d4d0c8" />
<rect x="1055" y="395" width="15" height="1" fill="#fff" />
<rect x="1055" y="395" width="1" height="14" fill="#fff" />
<rect x="1055" y="408" width="15" height="1" fill="#404040" />
<rect x="1069" y="395" width="1" height="14" fill="#404040" />
<rect x="1056" y="407" width="13" height="1" fill="#808080" />
<rect x="1068" y="396" width="1" height="12" fill="#808080" />
<rect x="1061" y="397" width="6" height="6" fill="#000" />
<rect x="1062" y="399" width="4" height="3" fill="#d4d0c8" />
<rect x="1058" y="400" width="6" height="6" fill="#000" />
<rect x="1059" y="402" width="4" height="3" fill="#d4d0c8" />
<rect x="1071" y="395" width="15" height="14" fill="#d4d0c8" />
<rect x="1071" y="395" width="15" height="1" fill="#fff" />
<rect x="1071" y="395" width="1" height="14" fill="#fff" />
<rect x="1071" y="408" width="15" height="1" fill="#404040" />
<rect x="1085" y="395" width="1" height="14" fill="#404040" />
<rect x="1072" y="407" width="13" height="1" fill="#808080" />
<rect x="1084" y="396" width="1" height="12" fill="#808080" />
<rect x="1074" y="397" width="8" height="9" fill="#000" />
<rect x="1075" y="399" width="6" height="6" fill="#d4d0c8" />
<rect x="1089" y="395" width="15" height="14" fill="#d4d0c8" />
<rect x="1089" y="395" width="15" height="1" fill="#fff" />
<rect x="1089" y="395" width="1" height="14" fill="#fff" />
<rect x="1089" y="408" width="15" height="1" fill="#404040" />
<rect x="1103" y="395" width="1" height="14" fill="#404040" />
<rect x="1090" y="407" width="13" height="1" fill="#808080" />
<rect x="1102" y="396" width="1" height="12" fill="#808080" />
<path d="M1093 398l7 7m0 -7l-7 7" stroke="#000" stroke-width="1.6" fill="none"/>
<rect x="1039" y="411" width="69" height="1" fill="#d4d0c8" />
<rect x="1039" y="412" width="70" height="1" fill="#404040" />
<rect x="1107" y="393" width="1" height="19" fill="#d4d0c8" />
<rect x="1108" y="391" width="1" height="22" fill="#404040" />
<rect x="1111" y="387" width="107" height="2" fill="#d4d0c8" />
<rect x="1111" y="387" width="2" height="24" fill="#d4d0c8" />
<rect x="1111" y="409" width="107" height="2" fill="#d4d0c8" />
<rect x="1116" y="392" width="15" height="14" fill="#008000" />
<rect x="1119" y="396" width="8" height="6" fill="#c0c0c0" />
<rect x="1118" y="395" width="3" height="3" fill="#e00000" />
<rect x="1125" y="400" width="4" height="3" fill="#0000e0" />
<text x="1133" y="403.259" font-size="12.6" font-weight="bold" fill="#d4d0c8" text-anchor="start" textLength="23" lengthAdjust="spacingAndGlyphs" >DAX</text>
<rect x="1214" y="392" width="4" height="13" fill="#d4d0c8" />
<rect x="1039" y="414" width="69" height="2" fill="#e8e8e4" />
<rect x="1054" y="419" width="15" height="14" fill="#d4d0c8" />
<rect x="1054" y="419" width="15" height="1" fill="#fff" />
<rect x="1054" y="419" width="1" height="14" fill="#fff" />
<rect x="1054" y="432" width="15" height="1" fill="#404040" />
<rect x="1068" y="419" width="1" height="14" fill="#404040" />
<rect x="1055" y="431" width="13" height="1" fill="#808080" />
<rect x="1067" y="420" width="1" height="12" fill="#808080" />
<rect x="1060" y="421" width="6" height="6" fill="#000" />
<rect x="1061" y="423" width="4" height="3" fill="#d4d0c8" />
<rect x="1057" y="424" width="6" height="6" fill="#000" />
<rect x="1058" y="426" width="4" height="3" fill="#d4d0c8" />
<rect x="1070" y="419" width="15" height="14" fill="#d4d0c8" />
<rect x="1070" y="419" width="15" height="1" fill="#fff" />
<rect x="1070" y="419" width="1" height="14" fill="#fff" />
<rect x="1070" y="432" width="15" height="1" fill="#404040" />
<rect x="1084" y="419" width="1" height="14" fill="#404040" />
<rect x="1071" y="431" width="13" height="1" fill="#808080" />
<rect x="1083" y="420" width="1" height="12" fill="#808080" />
<rect x="1073" y="421" width="8" height="9" fill="#000" />
<rect x="1074" y="423" width="6" height="6" fill="#d4d0c8" />
<rect x="1088" y="419" width="15" height="14" fill="#d4d0c8" />
<rect x="1088" y="419" width="15" height="1" fill="#fff" />
<rect x="1088" y="419" width="1" height="14" fill="#fff" />
<rect x="1088" y="432" width="15" height="1" fill="#404040" />
<rect x="1102" y="419" width="1" height="14" fill="#404040" />
<rect x="1089" y="431" width="13" height="1" fill="#808080" />
<rect x="1101" y="420" width="1" height="12" fill="#808080" />
<path d="M1092 422l7 7m0 -7l-7 7" stroke="#000" stroke-width="1.6" fill="none"/>
<rect x="1107" y="416" width="1" height="16" fill="#d4d0c8" />
<rect x="1108" y="414" width="1" height="18" fill="#404040" />
<rect x="1111" y="411" width="107" height="2" fill="#d4d0c8" />
<rect x="1111" y="411" width="2" height="21" fill="#d4d0c8" />
<rect x="1116" y="416" width="15" height="14" fill="#008000" />
<rect x="1119" y="420" width="8" height="6" fill="#c0c0c0" />
<rect x="1118" y="419" width="3" height="3" fill="#e00000" />
<rect x="1125" y="424" width="4" height="3" fill="#0000e0" />
<text x="1134" y="427.059" font-size="12.6" font-weight="bold" fill="#d4d0c8" text-anchor="start" textLength="33" lengthAdjust="spacingAndGlyphs" >MDAX</text>
<rect x="1214" y="416" width="4" height="13" fill="#d4d0c8" />
<rect x="1038" y="432" width="180" height="1" fill="#d4d0c8" />
<rect x="1038" y="433" width="180" height="1" fill="#fff" />
<rect x="1038" y="434" width="180" height="2" fill="#d4d0c8" />
<rect x="1038" y="432" width="2" height="311" fill="#d4d0c8" />
<rect x="1040" y="433" width="1" height="310" fill="#fff" />
<rect x="1041" y="436" width="177" height="18" fill="url(#mdi)" />
<rect x="1044" y="438" width="13" height="14" fill="#e8f0ff" />
<rect x="1046" y="440" width="5" height="10" fill="#4070d0" />
<rect x="1051" y="443" width="4" height="7" fill="#a0c0ff" />
<text x="1061" y="449.759" font-size="12.6" font-weight="bold" fill="#d4d0c8" text-anchor="start" textLength="147" lengthAdjust="spacingAndGlyphs" >YM #F - 1 Minute - eSignal</text>
<rect x="1041" y="454" width="177" height="289" fill="#fff" />
<text x="1044.5" y="469.58" font-size="10" font-weight="normal" fill="#000" text-anchor="start" textLength="114.5" lengthAdjust="spacingAndGlyphs" >DJI Mini Future  1 Minute</text>
<rect x="1166" y="460" width="12" height="12" fill="#000" />
<rect x="1167" y="461" width="10" height="10" fill="#fff" />
<path d="M1169.5 465h5l-2.5 3z" fill="#000"/>
<g clip-path="url(#clipYM)">
<line x1="1045" y1="617.696" x2="1045" y2="653.126" stroke="#20e020" stroke-width="1" stroke-dasharray="1,1" shape-rendering="crispEdges"/>
<line x1="1053" y1="609.964" x2="1053" y2="653.126" stroke="#20e020" stroke-width="1" stroke-dasharray="1,1" shape-rendering="crispEdges"/>
<line x1="1061" y1="604.839" x2="1061" y2="653.126" stroke="#20e020" stroke-width="1" stroke-dasharray="1,1" shape-rendering="crispEdges"/>
<line x1="1069" y1="604.839" x2="1069" y2="653.126" stroke="#20e020" stroke-width="1" stroke-dasharray="1,1" shape-rendering="crispEdges"/>
<line x1="1077" y1="604.839" x2="1077" y2="653.126" stroke="#20e020" stroke-width="1" stroke-dasharray="1,1" shape-rendering="crispEdges"/>
<line x1="1085" y1="604.839" x2="1085" y2="653.126" stroke="#20e020" stroke-width="1" stroke-dasharray="1,1" shape-rendering="crispEdges"/>
<line x1="1093" y1="605.005" x2="1093" y2="653.126" stroke="#20e020" stroke-width="1" stroke-dasharray="1,1" shape-rendering="crispEdges"/>
<line x1="1101" y1="612.548" x2="1101" y2="653.126" stroke="#20e020" stroke-width="1" stroke-dasharray="1,1" shape-rendering="crispEdges"/>
<line x1="1109" y1="602.897" x2="1109" y2="663.513" stroke="#20e020" stroke-width="1" stroke-dasharray="1,1" shape-rendering="crispEdges"/>
<line x1="1117" y1="593.259" x2="1117" y2="663.966" stroke="#20e020" stroke-width="1" stroke-dasharray="1,1" shape-rendering="crispEdges"/>
<line x1="1125" y1="593.259" x2="1125" y2="663.966" stroke="#20e020" stroke-width="1" stroke-dasharray="1,1" shape-rendering="crispEdges"/>
<line x1="1133" y1="593.259" x2="1133" y2="663.966" stroke="#20e020" stroke-width="1" stroke-dasharray="1,1" shape-rendering="crispEdges"/>
<line x1="1141" y1="593.259" x2="1141" y2="663.966" stroke="#20e020" stroke-width="1" stroke-dasharray="1,1" shape-rendering="crispEdges"/>
<line x1="1149" y1="593.259" x2="1149" y2="663.966" stroke="#20e020" stroke-width="1" stroke-dasharray="1,1" shape-rendering="crispEdges"/>
<line x1="1157" y1="591.166" x2="1157" y2="663.966" stroke="#20e020" stroke-width="1" stroke-dasharray="1,1" shape-rendering="crispEdges"/>
<line x1="1165" y1="594.815" x2="1165" y2="663.966" stroke="#20e020" stroke-width="1" stroke-dasharray="1,1" shape-rendering="crispEdges"/>
<line x1="1173" y1="599.634" x2="1173" y2="663.966" stroke="#20e020" stroke-width="1" stroke-dasharray="1,1" shape-rendering="crispEdges"/>
<line x1="1181" y1="615.634" x2="1181" y2="646.902" stroke="#20e020" stroke-width="1" stroke-dasharray="1,1" shape-rendering="crispEdges"/>
<line x1="1189" y1="626.423" x2="1189" y2="630.215" stroke="#20e020" stroke-width="1" stroke-dasharray="1,1" shape-rendering="crispEdges"/>
<line x1="1197" y1="622.787" x2="1197" y2="635.756" stroke="#ff40ff" stroke-width="1" stroke-dasharray="1,1" shape-rendering="crispEdges"/>
<line x1="1205" y1="615.432" x2="1205" y2="638.167" stroke="#ff40ff" stroke-width="1" stroke-dasharray="1,1" shape-rendering="crispEdges"/>
<line x1="1213" y1="615.432" x2="1213" y2="639.33" stroke="#ff40ff" stroke-width="1" stroke-dasharray="1,1" shape-rendering="crispEdges"/>
<polyline points="1041.09,672.097 1046.01,668.401 1053.4,690.574 1057.1,668.401 1062.03,658.546 1066.95,707.82 1071.88,737.384 1075.58,743.05 1079.27,743.05 1082.97,697.965 1086.66,678.256 1098.98,658.546 1103.91,621.592 1108.84,606.81 1115,633.91 1117.95,646.228" fill="none" stroke="#c0c0c0" stroke-width="1" />
<polyline points="1041.09,653.126 1101.45,653.126 1109.33,663.966 1173.63,663.966 1187.67,631.446 1204.92,615.432 1217.98,615.432" fill="none" stroke="#ff20ff" stroke-width="1.3" />
<polyline points="1041.09,618.635 1047.25,617.157 1057.1,604.839 1092.82,604.839 1101.45,612.969 1116.23,593.259 1150.72,593.259 1158.11,590.796 1172.89,599.419 1182.75,619.128 1197.53,636.373 1209.85,639.33 1217.98,639.33" fill="none" stroke="#10e010" stroke-width="1.2" />
<polyline points="1041,594.5 1049.7,609.3 1067,619.1 1091.6,621.6 1116.2,624 1133.5,621.6 1153.2,608 1170.4,598.2 1179.4,589.3 1187.5,581.3 1197.6,578.2 1207.7,579.2 1218,582.3" fill="none" stroke="#1010f0" stroke-width="1" stroke-dasharray="4,3" />
<polyline points="1041.09,646.228 1052.17,651.155 1066.95,641.301 1079.27,631.446 1091.59,616.664 1103.91,596.955 1121.16,590.796 1133.47,601.882 1148.26,604.346 1159.2,589.3 1171.4,573.2 1183.5,565.1 1191.6,560 1197.6,558.6 1205.7,562 1211.7,571.2 1218,587.3" fill="none" stroke="#f01010" stroke-width="1" stroke-dasharray="4,3" />
<polyline points="1064.3,594.4 1070.4,579.2 1078.5,576.2 1086.5,577.2 1090.6,583.3 1098,596" fill="none" stroke="#10b010" stroke-width="1" stroke-dasharray="4,3" />
<polyline points="1133.5,597 1140,589.3 1146.1,569.1 1153.2,548.9 1159.2,541.9 1164.9,540.5 1171.4,543.3 1177.4,553 1183.5,569.1 1189.5,587.3 1202.5,626.5 1212.3,663.5 1218,680.7" fill="none" stroke="#10b010" stroke-width="1" stroke-dasharray="4,3" />
<polyline points="1041.09,603.853 1062.03,603.853 1066.95,619.867 1101.45,619.867 1105.14,630.953 1108.84,630.953 1117.46,614.693 1180.28,614.693 1188.91,626.026 1217.98,626.026" fill="none" stroke="#f01010" stroke-width="2.2" />
<polyline points="1041.09,631.446 1046.01,631.446 1052.17,609.273 1066.95,596.955 1076.81,587.593 1093.32,587.593 1103.91,596.955 1117.95,571.086 1158.11,569.362 1172.89,582.173 1180.28,609.273 1188.91,636.373 1203.69,652.88 1217.98,652.88" fill="none" stroke="#1010e0" stroke-width="2.1" />
<rect x="1045" y="539" width="1" height="43" fill="#000" />
<rect x="1043" y="550" width="5" height="21" fill="#000" />
<rect x="1044" y="551" width="3" height="19" fill="#e00000" />
<rect x="1053" y="561" width="1" height="43" fill="#000" />
<rect x="1051" y="561" width="5" height="21" fill="#000" />
<rect x="1052" y="562" width="3" height="19" fill="#00d000" />
<rect x="1061" y="561" width="1" height="97" fill="#000" />
<rect x="1059" y="561" width="5" height="97" fill="#000" />
<rect x="1060" y="562" width="3" height="95" fill="#e00000" />
<rect x="1069" y="582" width="1" height="76" fill="#000" />
<rect x="1067" y="582" width="5" height="66" fill="#000" />
<rect x="1068" y="583" width="3" height="64" fill="#00d000" />
<rect x="1077" y="582" width="1" height="55" fill="#000" />
<rect x="1075" y="594" width="5" height="43" fill="#000" />
<rect x="1076" y="595" width="3" height="41" fill="#e00000" />
<rect x="1085" y="604" width="1" height="54" fill="#000" />
<rect x="1083" y="615" width="5" height="11" fill="#000" />
<rect x="1084" y="616" width="3" height="9" fill="#00d000" />
<rect x="1093" y="593" width="1" height="55" fill="#000" />
<rect x="1091" y="626" width="5" height="22" fill="#000" />
<rect x="1092" y="627" width="3" height="20" fill="#e00000" />
<rect x="1101" y="560" width="1" height="89" fill="#000" />
<rect x="1099" y="571" width="5" height="66" fill="#000" />
<rect x="1100" y="572" width="3" height="64" fill="#00d000" />
<rect x="1109" y="518" width="1" height="64" fill="#000" />
<rect x="1107" y="518" width="5" height="42" fill="#000" />
<rect x="1108" y="519" width="3" height="40" fill="#00d000" />
<rect x="1117" y="484" width="1" height="33" fill="#000" />
<rect x="1115" y="506" width="5" height="11" fill="#000" />
<rect x="1116" y="507" width="3" height="9" fill="#00d000" />
<rect x="1125" y="506" width="1" height="33" fill="#000" />
<rect x="1123" y="506" width="5" height="33" fill="#000" />
<rect x="1124" y="507" width="3" height="31" fill="#e00000" />
<rect x="1133" y="528" width="1" height="33" fill="#000" />
<rect x="1131" y="539" width="5" height="11" fill="#000" />
<rect x="1132" y="540" width="3" height="9" fill="#e00000" />
<rect x="1141" y="539" width="1" height="87" fill="#000" />
<rect x="1139" y="539" width="5" height="22" fill="#000" />
<rect x="1140" y="540" width="3" height="20" fill="#e00000" />
<rect x="1149" y="550" width="1" height="32" fill="#000" />
<rect x="1147" y="550" width="5" height="32" fill="#000" />
<rect x="1148" y="551" width="3" height="30" fill="#00d000" />
<rect x="1157" y="539" width="1" height="110" fill="#000" />
<rect x="1155" y="550" width="5" height="76" fill="#000" />
<rect x="1156" y="551" width="3" height="74" fill="#e00000" />
<rect x="1165" y="615" width="1" height="55" fill="#000" />
<rect x="1163" y="626" width="5" height="32" fill="#000" />
<rect x="1164" y="627" width="3" height="30" fill="#e00000" />
<rect x="1173" y="615" width="1" height="66" fill="#000" />
<rect x="1171" y="658" width="5" height="1" fill="#000" />
<rect x="1181" y="658" width="1" height="87" fill="#000" />
<rect x="1179" y="670" width="5" height="55" fill="#000" />
<rect x="1180" y="671" width="3" height="53" fill="#e00000" />
<rect x="1189" y="713" width="1" height="37" fill="#000" />
<rect x="1187" y="735" width="5" height="15" fill="#000" />
<rect x="1188" y="736" width="3" height="13" fill="#e00000" />
<rect x="1197" y="725" width="1" height="25" fill="#000" />
<rect x="1195" y="735" width="5" height="15" fill="#000" />
<rect x="1196" y="736" width="3" height="13" fill="#00d000" />
<rect x="1205" y="670" width="1" height="80" fill="#000" />
<rect x="1203" y="692" width="5" height="43" fill="#000" />
<rect x="1204" y="693" width="3" height="41" fill="#00d000" />
<rect x="1213" y="670" width="1" height="65" fill="#000" />
<rect x="1211" y="692" width="5" height="33" fill="#000" />
<rect x="1212" y="693" width="3" height="31" fill="#e00000" />
</g>
<rect x="0" y="0" width="766" height="743" fill="#fff" />
<rect x="268" y="0" width="2" height="4" fill="#d4d0c8" />
<rect x="270" y="0" width="1" height="4" fill="#808080" />
<rect x="274" y="1" width="2" height="3" fill="#000" />
<rect x="277" y="2" width="2" height="2" fill="#000" />
<rect x="281" y="3" width="1" height="1" fill="#000" />
<rect x="291" y="0" width="1" height="4" fill="#000" />
<rect x="333" y="0" width="2" height="4" fill="#00c000" />
<rect x="337" y="0" width="1" height="3" fill="#000" />
<rect x="342" y="0" width="2" height="4" fill="#c00000" />
<rect x="346" y="0" width="1" height="4" fill="#000" />
<rect x="352" y="0" width="2" height="3" fill="#00c000" />
<rect x="356" y="0" width="1" height="3" fill="#000" />
<rect x="360" y="0" width="2" height="2" fill="#00c000" />
<rect x="372" y="0" width="2" height="4" fill="#c00000" />
<rect x="381" y="0" width="1" height="3" fill="#000" />
<rect x="384" y="0" width="2" height="4" fill="#00c000" />
<rect x="432" y="0" width="1" height="4" fill="#000" />
<rect x="521" y="0" width="1" height="4" fill="#000" />
<rect x="674" y="0" width="1" height="4" fill="#000" />
<rect x="731" y="0" width="2" height="4" fill="#d4d0c8" />
<rect x="733" y="0" width="1" height="4" fill="#fff" />
<rect x="734" y="0" width="2" height="4" fill="#d4d0c8" />
<rect x="736" y="0" width="1" height="4" fill="#808080" />
<rect x="0" y="4" width="766" height="1" fill="#d4d8d0" />
<rect x="0" y="5" width="765" height="2" fill="#fff" />
<rect x="0" y="7" width="764" height="1" fill="#d4d0c8" />
<rect x="0" y="8" width="762" height="18" fill="url(#navy)" />
<rect x="0" y="26" width="762" height="2" fill="#d4d0c8" />
<rect x="0" y="28" width="761" height="1" fill="#808080" />
<rect x="760" y="28" width="1" height="715" fill="#d0d8d0" />
<rect x="761" y="7" width="1" height="736" fill="#fff" />
<rect x="762" y="5" width="2" height="738" fill="#d4d0c8" />
<rect x="764" y="4" width="1" height="739" fill="#808080" />
<rect x="765" y="4" width="1" height="739" fill="#404040" />
<rect x="761" y="8" width="1" height="18" fill="#0a246a" />
<rect x="638" y="10" width="14" height="14" fill="#fff" />
<rect x="639" y="11" width="6" height="12" fill="#1a50e0" />
<rect x="645" y="11" width="6" height="12" fill="#c8d8ff" />
<rect x="646" y="13" width="4" height="8" fill="#303028" />
<text x="642.2" y="21.056" font-size="12" font-weight="bold" fill="#fff" text-anchor="middle" >S</text>
<rect x="647" y="12" width="2" height="2" fill="#303028" />
<rect x="646" y="14" width="4" height="2" fill="#303028" />
<rect x="656" y="10" width="14" height="14" fill="#fff" />
<rect x="657" y="11" width="6" height="12" fill="#1a50e0" />
<rect x="663" y="11" width="6" height="12" fill="#c8d8ff" />
<rect x="664" y="13" width="4" height="8" fill="#303028" />
<rect x="658" y="12" width="5" height="2" fill="#fff" />
<rect x="659" y="12" width="3" height="10" fill="#fff" />
<rect x="658" y="20" width="5" height="2" fill="#fff" />
<rect x="665" y="12" width="2" height="2" fill="#303028" />
<rect x="664" y="14" width="4" height="2" fill="#303028" />
<rect x="674" y="10" width="14" height="14" fill="#fff" />
<rect x="675" y="11" width="12" height="12" fill="#2a60e8" />
<rect x="677" y="13" width="8" height="2" fill="#c0d4ff" />
<rect x="677" y="16" width="8" height="5" fill="#80a4f8" />
<rect x="678" y="17" width="6" height="3" fill="#2a60e8" />
<rect x="692" y="10" width="14" height="14" fill="#fff" />
<rect x="693" y="11" width="12" height="12" fill="#2a60e8" />
<rect x="696" y="15" width="7" height="6" fill="#c0d4ff" />
<rect x="697" y="16" width="5" height="4" fill="#2a60e8" />
<rect x="695" y="12" width="4" height="1" fill="#fff" />
<rect x="695" y="12" width="1" height="4" fill="#fff" />
<rect x="710" y="10" width="16" height="14" fill="#d4d0c8" />
<rect x="710" y="10" width="16" height="1" fill="#fff" />
<rect x="710" y="10" width="1" height="14" fill="#fff" />
<rect x="710" y="23" width="16" height="1" fill="#404040" />
<rect x="725" y="10" width="1" height="14" fill="#404040" />
<rect x="711" y="22" width="14" height="1" fill="#808080" />
<rect x="724" y="11" width="1" height="12" fill="#808080" />
<rect x="714" y="19" width="6" height="2" fill="#000" />
<rect x="726" y="10" width="16" height="14" fill="#d4d0c8" />
<rect x="726" y="10" width="16" height="1" fill="#fff" />
<rect x="726" y="10" width="1" height="14" fill="#fff" />
<rect x="726" y="23" width="16" height="1" fill="#404040" />
<rect x="741" y="10" width="1" height="14" fill="#404040" />
<rect x="727" y="22" width="14" height="1" fill="#808080" />
<rect x="740" y="11" width="1" height="12" fill="#808080" />
<rect x="729" y="12" width="9" height="9" fill="#000" />
<rect x="730" y="14" width="7" height="6" fill="#d4d0c8" />
<rect x="744" y="10" width="16" height="14" fill="#d4d0c8" />
<rect x="744" y="10" width="16" height="1" fill="#fff" />
<rect x="744" y="10" width="1" height="14" fill="#fff" />
<rect x="744" y="23" width="16" height="1" fill="#404040" />
<rect x="759" y="10" width="1" height="14" fill="#404040" />
<rect x="745" y="22" width="14" height="1" fill="#808080" />
<rect x="758" y="11" width="1" height="12" fill="#808080" />
<path d="M748 13l7 7m0 -7l-7 7" stroke="#000" stroke-width="1.6" fill="none"/>
<text x="221" y="41.9557" font-size="14.07" font-weight="bold" fill="#000" text-anchor="start" textLength="64.5" lengthAdjust="spacingAndGlyphs" >8:00-22:00)</text>
<rect x="552" y="29" width="1" height="683" fill="#f00000" />
<rect x="0" y="698" width="703" height="1" fill="#f00000" />
<rect x="703" y="29" width="1" height="684" fill="#000" />
<rect x="0" y="712" width="704" height="1" fill="#000" />
<text x="704.5" y="47.0686" font-size="14.7" font-weight="bold" fill="#000" text-anchor="start" textLength="52.5" lengthAdjust="spacingAndGlyphs" >10750.00</text>
<text x="704.5" y="84.4186" font-size="14.7" font-weight="bold" fill="#000" text-anchor="start" textLength="52.5" lengthAdjust="spacingAndGlyphs" >10745.00</text>
<text x="704.5" y="121.769" font-size="14.7" font-weight="bold" fill="#000" text-anchor="start" textLength="52.5" lengthAdjust="spacingAndGlyphs" >10740.00</text>
<text x="704.5" y="159.119" font-size="14.7" font-weight="bold" fill="#000" text-anchor="start" textLength="52.5" lengthAdjust="spacingAndGlyphs" >10735.00</text>
<text x="704.5" y="196.469" font-size="14.7" font-weight="bold" fill="#000" text-anchor="start" textLength="52.5" lengthAdjust="spacingAndGlyphs" >10730.00</text>
<text x="704.5" y="233.819" font-size="14.7" font-weight="bold" fill="#000" text-anchor="start" textLength="52.5" lengthAdjust="spacingAndGlyphs" >10725.00</text>
<text x="704.5" y="271.169" font-size="14.7" font-weight="bold" fill="#000" text-anchor="start" textLength="52.5" lengthAdjust="spacingAndGlyphs" >10720.00</text>
<text x="704.5" y="308.519" font-size="14.7" font-weight="bold" fill="#000" text-anchor="start" textLength="52.5" lengthAdjust="spacingAndGlyphs" >10715.00</text>
<text x="704.5" y="345.869" font-size="14.7" font-weight="bold" fill="#000" text-anchor="start" textLength="52.5" lengthAdjust="spacingAndGlyphs" >10710.00</text>
<text x="704.5" y="383.219" font-size="14.7" font-weight="bold" fill="#000" text-anchor="start" textLength="52.5" lengthAdjust="spacingAndGlyphs" >10705.00</text>
<text x="704.5" y="420.569" font-size="14.7" font-weight="bold" fill="#000" text-anchor="start" textLength="52.5" lengthAdjust="spacingAndGlyphs" >10700.00</text>
<text x="704.5" y="457.919" font-size="14.7" font-weight="bold" fill="#000" text-anchor="start" textLength="52.5" lengthAdjust="spacingAndGlyphs" >10695.00</text>
<text x="704.5" y="495.269" font-size="14.7" font-weight="bold" fill="#000" text-anchor="start" textLength="52.5" lengthAdjust="spacingAndGlyphs" >10690.00</text>
<text x="704.5" y="532.619" font-size="14.7" font-weight="bold" fill="#000" text-anchor="start" textLength="52.5" lengthAdjust="spacingAndGlyphs" >10685.00</text>
<text x="704.5" y="569.969" font-size="14.7" font-weight="bold" fill="#000" text-anchor="start" textLength="52.5" lengthAdjust="spacingAndGlyphs" >10680.00</text>
<text x="704.5" y="607.319" font-size="14.7" font-weight="bold" fill="#000" text-anchor="start" textLength="52.5" lengthAdjust="spacingAndGlyphs" >10675.00</text>
<text x="704.5" y="644.669" font-size="14.7" font-weight="bold" fill="#000" text-anchor="start" textLength="52.5" lengthAdjust="spacingAndGlyphs" >10670.00</text>
<text x="704.5" y="682.019" font-size="14.7" font-weight="bold" fill="#000" text-anchor="start" textLength="52.5" lengthAdjust="spacingAndGlyphs" >10665.00</text>
<rect x="703" y="385" width="54" height="16" fill="#f00000" />
<text x="704.5" y="398.169" font-size="14.7" font-weight="bold" fill="#fff" text-anchor="start" textLength="52.5" lengthAdjust="spacingAndGlyphs" >10703.00</text>
<rect x="700" y="488" width="3" height="1" fill="#000" />
<path d="M703 488.5L701.2 498" stroke="#000" stroke-width="1.2" fill="none"/>
<text x="16" y="726.414" font-size="13.65" font-weight="bold" fill="#000" text-anchor="middle" textLength="32" lengthAdjust="spacingAndGlyphs" >17:30</text>
<text x="136" y="726.414" font-size="13.65" font-weight="bold" fill="#000" text-anchor="middle" textLength="32" lengthAdjust="spacingAndGlyphs" >18:00</text>
<text x="256" y="726.414" font-size="13.65" font-weight="bold" fill="#000" text-anchor="middle" textLength="32" lengthAdjust="spacingAndGlyphs" >18:30</text>
<text x="376" y="726.414" font-size="13.65" font-weight="bold" fill="#000" text-anchor="middle" textLength="32" lengthAdjust="spacingAndGlyphs" >19:00</text>
<text x="496" y="726.414" font-size="13.65" font-weight="bold" fill="#000" text-anchor="middle" textLength="32" lengthAdjust="spacingAndGlyphs" >19:30</text>
<text x="616" y="726.414" font-size="13.65" font-weight="bold" fill="#000" text-anchor="middle" textLength="32" lengthAdjust="spacingAndGlyphs" >20:00</text>
<rect x="224" y="471" width="1" height="15" fill="#000" />
<rect x="223" y="471" width="3" height="12" fill="#000" />
<rect x="224" y="472" width="1" height="10" fill="#00c400" />
<rect x="228" y="465" width="1" height="21" fill="#000" />
<rect x="227" y="465" width="3" height="14" fill="#000" />
<rect x="228" y="466" width="1" height="12" fill="#00c400" />
<rect x="232" y="460" width="1" height="10" fill="#000" />
<rect x="231" y="468" width="3" height="3" fill="#000" />
<rect x="232" y="469" width="1" height="1" fill="#00c400" />
<rect x="236" y="456" width="1" height="19" fill="#000" />
<rect x="235" y="465" width="3" height="3" fill="#000" />
<rect x="236" y="466" width="1" height="1" fill="#d40000" />
<rect x="240" y="460" width="1" height="5" fill="#000" />
<rect x="239" y="463" width="3" height="1" fill="#000" />
<rect x="244" y="449" width="1" height="18" fill="#000" />
<rect x="243" y="456" width="3" height="7" fill="#000" />
<rect x="244" y="457" width="1" height="5" fill="#00c400" />
<rect x="248" y="400" width="1" height="55" fill="#000" />
<rect x="247" y="420" width="3" height="35" fill="#000" />
<rect x="248" y="421" width="1" height="33" fill="#00c400" />
<rect x="252" y="393" width="1" height="26" fill="#000" />
<rect x="251" y="400" width="3" height="15" fill="#000" />
<rect x="252" y="401" width="1" height="13" fill="#00c400" />
<rect x="256" y="374" width="1" height="34" fill="#000" />
<rect x="255" y="383" width="3" height="9" fill="#000" />
<rect x="256" y="384" width="1" height="7" fill="#00c400" />
<rect x="260" y="386" width="1" height="10" fill="#000" />
<rect x="259" y="386" width="3" height="3" fill="#000" />
<rect x="260" y="387" width="1" height="1" fill="#00c400" />
<rect x="264" y="383" width="1" height="25" fill="#000" />
<rect x="263" y="383" width="3" height="16" fill="#000" />
<rect x="264" y="384" width="1" height="14" fill="#d40000" />
<rect x="268" y="393" width="1" height="14" fill="#000" />
<rect x="267" y="393" width="3" height="14" fill="#000" />
<rect x="268" y="394" width="1" height="12" fill="#d40000" />
<rect x="272" y="400" width="1" height="11" fill="#000" />
<rect x="271" y="400" width="3" height="7" fill="#000" />
<rect x="272" y="401" width="1" height="5" fill="#00c400" />
<rect x="276" y="398" width="1" height="14" fill="#000" />
<rect x="275" y="398" width="3" height="14" fill="#000" />
<rect x="276" y="399" width="1" height="12" fill="#d40000" />
<rect x="280" y="398" width="1" height="6" fill="#000" />
<rect x="279" y="398" width="3" height="1" fill="#000" />
<rect x="284" y="394" width="1" height="10" fill="#000" />
<rect x="283" y="394" width="3" height="5" fill="#000" />
<rect x="284" y="395" width="1" height="3" fill="#d40000" />
<rect x="288" y="398" width="1" height="43" fill="#000" />
<rect x="287" y="404" width="3" height="21" fill="#000" />
<rect x="288" y="405" width="1" height="19" fill="#d40000" />
<rect x="292" y="408" width="1" height="18" fill="#000" />
<rect x="291" y="415" width="3" height="8" fill="#000" />
<rect x="292" y="416" width="1" height="6" fill="#00c400" />
<rect x="296" y="400" width="1" height="19" fill="#000" />
<rect x="295" y="400" width="3" height="19" fill="#000" />
<rect x="296" y="401" width="1" height="17" fill="#00c400" />
<rect x="300" y="394" width="1" height="5" fill="#000" />
<rect x="299" y="398" width="3" height="1" fill="#000" />
<rect x="304" y="394" width="1" height="14" fill="#000" />
<rect x="303" y="394" width="3" height="3" fill="#000" />
<rect x="304" y="395" width="1" height="1" fill="#00c400" />
<rect x="308" y="398" width="1" height="9" fill="#000" />
<rect x="307" y="398" width="3" height="9" fill="#000" />
<rect x="308" y="399" width="1" height="7" fill="#d40000" />
<rect x="312" y="404" width="1" height="22" fill="#000" />
<rect x="311" y="404" width="3" height="7" fill="#000" />
<rect x="312" y="405" width="1" height="5" fill="#d40000" />
<rect x="316" y="412" width="1" height="7" fill="#000" />
<rect x="315" y="415" width="3" height="4" fill="#000" />
<rect x="316" y="416" width="1" height="2" fill="#d40000" />
<rect x="320" y="404" width="1" height="26" fill="#000" />
<rect x="319" y="415" width="3" height="15" fill="#000" />
<rect x="320" y="416" width="1" height="13" fill="#d40000" />
<rect x="324" y="412" width="1" height="26" fill="#000" />
<rect x="323" y="419" width="3" height="14" fill="#000" />
<rect x="324" y="420" width="1" height="12" fill="#d40000" />
<rect x="328" y="430" width="1" height="22" fill="#000" />
<rect x="327" y="437" width="3" height="1" fill="#000" />
<rect x="332" y="423" width="1" height="21" fill="#000" />
<rect x="331" y="423" width="3" height="18" fill="#000" />
<rect x="332" y="424" width="1" height="16" fill="#00c400" />
<rect x="336" y="408" width="1" height="22" fill="#000" />
<rect x="335" y="408" width="3" height="15" fill="#000" />
<rect x="336" y="409" width="1" height="13" fill="#00c400" />
<rect x="340" y="400" width="1" height="26" fill="#000" />
<rect x="339" y="404" width="3" height="3" fill="#000" />
<rect x="340" y="405" width="1" height="1" fill="#00c400" />
<rect x="344" y="398" width="1" height="13" fill="#000" />
<rect x="343" y="398" width="3" height="13" fill="#000" />
<rect x="344" y="399" width="1" height="11" fill="#d40000" />
<rect x="348" y="399" width="1" height="5" fill="#000" />
<rect x="347" y="399" width="3" height="1" fill="#000" />
<rect x="352" y="400" width="1" height="11" fill="#000" />
<rect x="351" y="403" width="3" height="1" fill="#000" />
<rect x="356" y="400" width="1" height="11" fill="#000" />
<rect x="355" y="408" width="3" height="3" fill="#000" />
<rect x="356" y="409" width="1" height="1" fill="#00c400" />
<rect x="360" y="393" width="1" height="18" fill="#000" />
<rect x="359" y="404" width="3" height="7" fill="#000" />
<rect x="360" y="405" width="1" height="5" fill="#00c400" />
<rect x="364" y="368" width="1" height="35" fill="#000" />
<rect x="363" y="368" width="3" height="35" fill="#000" />
<rect x="364" y="369" width="1" height="33" fill="#00c400" />
<rect x="368" y="344" width="1" height="25" fill="#000" />
<rect x="367" y="359" width="3" height="8" fill="#000" />
<rect x="368" y="360" width="1" height="6" fill="#d40000" />
<rect x="372" y="363" width="1" height="10" fill="#000" />
<rect x="371" y="367" width="3" height="6" fill="#000" />
<rect x="372" y="368" width="1" height="4" fill="#d40000" />
<rect x="376" y="368" width="1" height="13" fill="#000" />
<rect x="375" y="375" width="3" height="6" fill="#000" />
<rect x="376" y="376" width="1" height="4" fill="#d40000" />
<rect x="380" y="352" width="1" height="29" fill="#000" />
<rect x="379" y="352" width="3" height="26" fill="#000" />
<rect x="380" y="353" width="1" height="24" fill="#00c400" />
<rect x="384" y="356" width="1" height="22" fill="#000" />
<rect x="383" y="356" width="3" height="22" fill="#000" />
<rect x="384" y="357" width="1" height="20" fill="#d40000" />
<rect x="388" y="363" width="1" height="15" fill="#000" />
<rect x="387" y="367" width="3" height="11" fill="#000" />
<rect x="388" y="368" width="1" height="9" fill="#00c400" />
<rect x="392" y="363" width="1" height="15" fill="#000" />
<rect x="391" y="366" width="3" height="1" fill="#000" />
<rect x="396" y="368" width="1" height="6" fill="#000" />
<rect x="395" y="368" width="3" height="6" fill="#000" />
<rect x="396" y="369" width="1" height="4" fill="#d40000" />
<rect x="400" y="363" width="1" height="11" fill="#000" />
<rect x="399" y="370" width="3" height="4" fill="#000" />
<rect x="400" y="371" width="1" height="2" fill="#d40000" />
<rect x="404" y="378" width="1" height="30" fill="#000" />
<rect x="403" y="378" width="3" height="21" fill="#000" />
<rect x="404" y="379" width="1" height="19" fill="#d40000" />
<rect x="408" y="398" width="1" height="6" fill="#000" />
<rect x="407" y="399" width="3" height="2" fill="#000" />
<rect x="412" y="393" width="1" height="4" fill="#000" />
<rect x="411" y="393" width="3" height="1" fill="#000" />
<rect x="416" y="382" width="1" height="15" fill="#000" />
<rect x="415" y="386" width="3" height="6" fill="#000" />
<rect x="416" y="387" width="1" height="4" fill="#d40000" />
<rect x="420" y="378" width="1" height="3" fill="#000" />
<rect x="419" y="378" width="3" height="3" fill="#000" />
<rect x="420" y="379" width="1" height="1" fill="#00c400" />
<rect x="424" y="386" width="1" height="11" fill="#000" />
<rect x="423" y="386" width="3" height="11" fill="#000" />
<rect x="424" y="387" width="1" height="9" fill="#d40000" />
<rect x="428" y="389" width="1" height="14" fill="#000" />
<rect x="427" y="400" width="3" height="3" fill="#000" />
<rect x="428" y="401" width="1" height="1" fill="#00c400" />
<rect x="432" y="393" width="1" height="11" fill="#000" />
<rect x="431" y="393" width="3" height="1" fill="#000" />
<rect x="436" y="405" width="1" height="21" fill="#000" />
<rect x="435" y="405" width="3" height="13" fill="#000" />
<rect x="436" y="406" width="1" height="11" fill="#d40000" />
<rect x="440" y="412" width="1" height="25" fill="#000" />
<rect x="439" y="420" width="3" height="13" fill="#000" />
<rect x="440" y="421" width="1" height="11" fill="#d40000" />
<rect x="444" y="426" width="1" height="11" fill="#000" />
<rect x="443" y="426" width="3" height="11" fill="#000" />
<rect x="444" y="427" width="1" height="9" fill="#00c400" />
<rect x="448" y="409" width="1" height="20" fill="#000" />
<rect x="447" y="409" width="3" height="20" fill="#000" />
<rect x="448" y="410" width="1" height="18" fill="#00c400" />
<rect x="452" y="412" width="1" height="18" fill="#000" />
<rect x="451" y="412" width="3" height="10" fill="#000" />
<rect x="452" y="413" width="1" height="8" fill="#00c400" />
<rect x="456" y="378" width="1" height="33" fill="#000" />
<rect x="455" y="408" width="3" height="3" fill="#000" />
<rect x="456" y="409" width="1" height="1" fill="#00c400" />
<rect x="460" y="397" width="1" height="14" fill="#000" />
<rect x="459" y="407" width="3" height="2" fill="#000" />
<rect x="464" y="393" width="1" height="14" fill="#000" />
<rect x="463" y="393" width="3" height="14" fill="#000" />
<rect x="464" y="394" width="1" height="12" fill="#00c400" />
<rect x="468" y="378" width="1" height="11" fill="#000" />
<rect x="467" y="388" width="3" height="1" fill="#000" />
<rect x="472" y="378" width="1" height="21" fill="#000" />
<rect x="471" y="382" width="3" height="7" fill="#000" />
<rect x="472" y="383" width="1" height="5" fill="#d40000" />
<rect x="476" y="386" width="1" height="10" fill="#000" />
<rect x="475" y="386" width="3" height="10" fill="#000" />
<rect x="476" y="387" width="1" height="8" fill="#d40000" />
<rect x="480" y="374" width="1" height="23" fill="#000" />
<rect x="479" y="378" width="3" height="10" fill="#000" />
<rect x="480" y="379" width="1" height="8" fill="#00c400" />
<rect x="484" y="378" width="1" height="3" fill="#000" />
<rect x="483" y="378" width="3" height="3" fill="#000" />
<rect x="484" y="379" width="1" height="1" fill="#00c400" />
<rect x="488" y="375" width="1" height="9" fill="#000" />
<rect x="487" y="378" width="3" height="6" fill="#000" />
<rect x="488" y="379" width="1" height="4" fill="#00c400" />
<rect x="492" y="370" width="1" height="18" fill="#000" />
<rect x="491" y="374" width="3" height="14" fill="#000" />
<rect x="492" y="375" width="1" height="12" fill="#d40000" />
<rect x="496" y="381" width="1" height="1" fill="#000" />
<rect x="495" y="381" width="3" height="1" fill="#000" />
<rect x="500" y="374" width="1" height="23" fill="#000" />
<rect x="499" y="382" width="3" height="11" fill="#000" />
<rect x="500" y="383" width="1" height="9" fill="#00c400" />
<rect x="504" y="329" width="1" height="33" fill="#000" />
<rect x="503" y="329" width="3" height="33" fill="#000" />
<rect x="504" y="330" width="1" height="31" fill="#00c400" />
<rect x="508" y="322" width="1" height="18" fill="#000" />
<rect x="507" y="334" width="3" height="6" fill="#000" />
<rect x="508" y="335" width="1" height="4" fill="#d40000" />
<rect x="512" y="311" width="1" height="14" fill="#000" />
<rect x="511" y="314" width="3" height="11" fill="#000" />
<rect x="512" y="315" width="1" height="9" fill="#00c400" />
<rect x="516" y="322" width="1" height="10" fill="#000" />
<rect x="515" y="326" width="3" height="6" fill="#000" />
<rect x="516" y="327" width="1" height="4" fill="#d40000" />
<rect x="520" y="322" width="1" height="15" fill="#000" />
<rect x="519" y="329" width="3" height="3" fill="#000" />
<rect x="520" y="330" width="1" height="1" fill="#00c400" />
<rect x="524" y="334" width="1" height="17" fill="#000" />
<rect x="523" y="341" width="3" height="10" fill="#000" />
<rect x="524" y="342" width="1" height="8" fill="#d40000" />
<rect x="528" y="337" width="1" height="3" fill="#000" />
<rect x="527" y="337" width="3" height="3" fill="#000" />
<rect x="528" y="338" width="1" height="1" fill="#00c400" />
<rect x="532" y="334" width="1" height="32" fill="#000" />
<rect x="531" y="334" width="3" height="32" fill="#000" />
<rect x="532" y="335" width="1" height="30" fill="#d40000" />
<rect x="536" y="363" width="1" height="6" fill="#000" />
<rect x="535" y="368" width="3" height="1" fill="#000" />
<rect x="540" y="374" width="1" height="7" fill="#000" />
<rect x="539" y="374" width="3" height="7" fill="#000" />
<rect x="540" y="375" width="1" height="5" fill="#d40000" />
<rect x="544" y="370" width="1" height="29" fill="#000" />
<rect x="543" y="370" width="3" height="11" fill="#000" />
<rect x="544" y="371" width="1" height="9" fill="#d40000" />
<rect x="548" y="385" width="1" height="18" fill="#000" />
<rect x="547" y="397" width="3" height="3" fill="#000" />
<rect x="548" y="398" width="1" height="1" fill="#d40000" />
<rect x="552" y="393" width="1" height="6" fill="#000" />
<rect x="551" y="393" width="3" height="6" fill="#000" />
<rect x="552" y="394" width="1" height="4" fill="#c0e8ff" />
<rect x="556" y="382" width="1" height="15" fill="#000" />
<rect x="555" y="386" width="3" height="11" fill="#000" />
<rect x="556" y="387" width="1" height="9" fill="#00c400" />
<rect x="560" y="374" width="1" height="10" fill="#000" />
<rect x="559" y="374" width="3" height="10" fill="#000" />
<rect x="560" y="375" width="1" height="8" fill="#00c400" />
<rect x="564" y="386" width="1" height="2" fill="#000" />
<rect x="563" y="386" width="3" height="3" fill="#000" />
<rect x="564" y="387" width="1" height="1" fill="#00c400" />
<rect x="568" y="374" width="1" height="23" fill="#000" />
<rect x="567" y="386" width="3" height="6" fill="#000" />
<rect x="568" y="387" width="1" height="4" fill="#00c400" />
<rect x="572" y="368" width="1" height="31" fill="#000" />
<rect x="571" y="374" width="3" height="18" fill="#000" />
<rect x="572" y="375" width="1" height="16" fill="#00c400" />
<rect x="576" y="371" width="1" height="6" fill="#000" />
<rect x="575" y="371" width="3" height="3" fill="#000" />
<rect x="576" y="372" width="1" height="1" fill="#00c400" />
<rect x="580" y="355" width="1" height="22" fill="#000" />
<rect x="579" y="368" width="3" height="1" fill="#000" />
<rect x="584" y="355" width="1" height="19" fill="#000" />
<rect x="583" y="355" width="3" height="19" fill="#000" />
<rect x="584" y="356" width="1" height="17" fill="#d40000" />
<rect x="588" y="363" width="1" height="14" fill="#000" />
<rect x="587" y="363" width="3" height="14" fill="#000" />
<rect x="588" y="364" width="1" height="12" fill="#00c400" />
<rect x="592" y="378" width="1" height="19" fill="#000" />
<rect x="591" y="378" width="3" height="10" fill="#000" />
<rect x="592" y="379" width="1" height="8" fill="#d40000" />
<rect x="596" y="389" width="1" height="7" fill="#000" />
<rect x="595" y="393" width="3" height="3" fill="#000" />
<rect x="596" y="394" width="1" height="1" fill="#d40000" />
<rect x="600" y="378" width="1" height="34" fill="#000" />
<rect x="599" y="378" width="3" height="19" fill="#000" />
<rect x="600" y="379" width="1" height="17" fill="#00c400" />
<rect x="604" y="363" width="1" height="18" fill="#000" />
<rect x="603" y="371" width="3" height="10" fill="#000" />
<rect x="604" y="372" width="1" height="8" fill="#00c400" />
<rect x="608" y="367" width="1" height="7" fill="#000" />
<rect x="607" y="371" width="3" height="3" fill="#000" />
<rect x="608" y="372" width="1" height="1" fill="#00c400" />
<rect x="612" y="371" width="1" height="10" fill="#000" />
<rect x="611" y="371" width="3" height="3" fill="#000" />
<rect x="612" y="372" width="1" height="1" fill="#d40000" />
<rect x="616" y="370" width="1" height="22" fill="#000" />
<rect x="615" y="378" width="3" height="14" fill="#000" />
<rect x="616" y="379" width="1" height="12" fill="#d40000" />
<rect x="16" y="496" width="1" height="4" fill="#000" />
<rect x="20" y="496" width="1" height="28" fill="#000" />
<rect x="19" y="496" width="3" height="2" fill="#000" />
<rect x="20" y="496" width="1" height="1" fill="#d40000" />
<rect x="24" y="496" width="1" height="1" fill="#000" />
<rect x="23" y="496" width="3" height="2" fill="#000" />
<rect x="24" y="496" width="1" height="1" fill="#00c400" />
<rect x="120" y="496" width="1" height="1" fill="#000" />
<rect x="124" y="496" width="1" height="0" fill="#000" />
<rect x="128" y="496" width="1" height="12" fill="#000" />
<rect x="127" y="496" width="3" height="2" fill="#000" />
<rect x="128" y="496" width="1" height="1" fill="#d40000" />
<rect x="132" y="496" width="1" height="20" fill="#000" />
<rect x="131" y="496" width="3" height="2" fill="#000" />
<rect x="132" y="496" width="1" height="1" fill="#00c400" />
<rect x="140" y="496" width="1" height="1" fill="#000" />
<rect x="139" y="496" width="3" height="2" fill="#000" />
<rect x="140" y="496" width="1" height="1" fill="#d40000" />
<rect x="144" y="496" width="1" height="12" fill="#000" />
<rect x="148" y="496" width="1" height="9" fill="#000" />
<rect x="147" y="496" width="3" height="2" fill="#000" />
<rect x="148" y="496" width="1" height="1" fill="#00c400" />
<g clip-path="url(#clipM)">
<text x="649.7" y="322.34" font-size="14.91" font-weight="bold" fill="#ff10ff" text-anchor="start" textLength="71" lengthAdjust="spacingAndGlyphs" >Stopp Buy</text>
<text x="657.5" y="432.74" font-size="14.91" font-weight="bold" fill="#ff10ff" text-anchor="start" textLength="40" lengthAdjust="spacingAndGlyphs" >Stopp</text>
<text x="665.5" y="522.04" font-size="14.91" font-weight="bold" fill="#ff10ff" text-anchor="start" textLength="40" lengthAdjust="spacingAndGlyphs" >Stopp</text>
<text x="665.5" y="544.44" font-size="14.91" font-weight="bold" fill="#ff10ff" text-anchor="start" textLength="40" lengthAdjust="spacingAndGlyphs" >Stopp</text>
</g>
<text x="189" y="514.882" font-size="15.33" font-weight="bold" fill="#000" text-anchor="start" textLength="145.5" lengthAdjust="spacingAndGlyphs" >+0,05 R / +1,5 Punkte</text>
<text x="220.3" y="536.814" font-size="13.65" font-weight="bold" fill="#000" text-anchor="start" textLength="50" lengthAdjust="spacingAndGlyphs" >3. Trade</text>
<text x="197.5" y="556.64" font-size="14.91" font-weight="bold" fill="#0a800a" text-anchor="start" textLength="114" lengthAdjust="spacingAndGlyphs" >Stopp Buy 10701</text>
<text x="197.5" y="573.64" font-size="14.91" font-weight="bold" fill="#0a800a" text-anchor="start" textLength="83.2" lengthAdjust="spacingAndGlyphs" >Stopp 10671</text>
<text x="196.3" y="595.84" font-size="14.91" font-weight="bold" fill="#0a800a" text-anchor="start" textLength="124" lengthAdjust="spacingAndGlyphs" >Ausstieg 10702,50</text>
<text x="196.3" y="629.214" font-size="13.65" font-weight="bold" fill="#000" text-anchor="start" textLength="85" lengthAdjust="spacingAndGlyphs" >1R=30 Punkte</text>
<text x="196.3" y="645.114" font-size="13.65" font-weight="bold" fill="#000" text-anchor="start" textLength="57.7" lengthAdjust="spacingAndGlyphs" >1R: 10731</text>
<text x="196.3" y="661.014" font-size="13.65" font-weight="bold" fill="#000" text-anchor="start" textLength="57.7" lengthAdjust="spacingAndGlyphs" >2R: 10761</text>
<text x="196.3" y="676.914" font-size="13.65" font-weight="bold" fill="#000" text-anchor="start" textLength="57.7" lengthAdjust="spacingAndGlyphs" >3R: 10791</text>
<text x="196.3" y="692.814" font-size="13.65" font-weight="bold" fill="#000" text-anchor="start" textLength="57.7" lengthAdjust="spacingAndGlyphs" >4R: 10821</text>
<text x="428.6" y="497.382" font-size="15.33" font-weight="bold" fill="#000" text-anchor="start" textLength="146" lengthAdjust="spacingAndGlyphs" >-0,025 R / -0,5 Punkte</text>
<text x="488" y="515.214" font-size="13.65" font-weight="bold" fill="#000" text-anchor="start" textLength="50.5" lengthAdjust="spacingAndGlyphs" >4. Trade</text>
<text x="481.4" y="536.04" font-size="14.91" font-weight="bold" fill="#1010e6" text-anchor="start" textLength="115" lengthAdjust="spacingAndGlyphs" >Stopp Buy 10703</text>
<text x="481.4" y="555.84" font-size="14.91" font-weight="bold" fill="#1010e6" text-anchor="start" textLength="84.3" lengthAdjust="spacingAndGlyphs" >Stopp 10683</text>
<text x="480.5" y="578.84" font-size="14.91" font-weight="bold" fill="#1010e6" text-anchor="start" textLength="124" lengthAdjust="spacingAndGlyphs" >Ausstieg 10702,50</text>
<text x="488" y="607.014" font-size="13.65" font-weight="bold" fill="#000" text-anchor="start" textLength="85.4" lengthAdjust="spacingAndGlyphs" >1R=20 Punkte</text>
<text x="488" y="622.814" font-size="13.65" font-weight="bold" fill="#000" text-anchor="start" textLength="58" lengthAdjust="spacingAndGlyphs" >1R: 10723</text>
<text x="488" y="638.814" font-size="13.65" font-weight="bold" fill="#000" text-anchor="start" textLength="58" lengthAdjust="spacingAndGlyphs" >2R: 10743</text>
<text x="488" y="654.814" font-size="13.65" font-weight="bold" fill="#000" text-anchor="start" textLength="58" lengthAdjust="spacingAndGlyphs" >3R: 10763</text>
<text x="488" y="670.814" font-size="13.65" font-weight="bold" fill="#000" text-anchor="start" textLength="58" lengthAdjust="spacingAndGlyphs" >4R: 10783</text>
<rect x="552" y="480" width="1" height="232" fill="#f00000" />
<rect x="0" y="549" width="62" height="158" fill="#d4d0c8" />
<rect x="0" y="550" width="61" height="156" fill="#000" />
<rect x="60" y="550" width="1" height="156" fill="#808080" />
<rect x="0" y="552" width="59" height="12" fill="#00ff00" />
<text x="-5" y="561.718" font-size="11" font-weight="normal" fill="#000" text-anchor="start" >K</text>
<text x="-2.5" y="575.749" font-size="10.5" font-weight="normal" fill="#fff" text-anchor="start" >K Z5-EUX,1</text>
<text x="-2.5" y="589.779" font-size="10.5" font-weight="normal" fill="#fff" text-anchor="start" >7/15</text>
<text x="-2.5" y="603.809" font-size="10.5" font-weight="normal" fill="#fff" text-anchor="start" >8</text>
<text x="-1" y="617.839" font-size="10.5" font-weight="normal" fill="#fff" text-anchor="start" >2.306</text>
<text x="-1" y="645.899" font-size="10.5" font-weight="normal" fill="#fff" text-anchor="start" >-24</text>
<text x="-1" y="659.929" font-size="10.5" font-weight="normal" fill="#fff" text-anchor="start" >3.00</text>
<text x="-1" y="673.959" font-size="10.5" font-weight="normal" fill="#fff" text-anchor="start" >3.00</text>
<text x="-1" y="687.989" font-size="10.5" font-weight="normal" fill="#fff" text-anchor="start" >2.00</text>
<text x="-1" y="702.019" font-size="10.5" font-weight="normal" fill="#fff" text-anchor="start" >2.00</text>
<rect x="0" y="0" width="217" height="492" fill="#fff" />
<line x1="0" y1="6.5" x2="93" y2="6.5" stroke="#20a040" stroke-width="1" stroke-dasharray="3,3" shape-rendering="crispEdges"/>
<path d="M32 -1 Q34 7 41 6 Q49 5 52 -2" stroke="#000" stroke-width="1.6" fill="none"/>
<circle cx="36.8" cy="6.4" r="3.6" fill="#00f000"/>
<rect x="12" y="0" width="3" height="1" fill="#000" />
<line x1="48.5" y1="8" x2="48.5" y2="17" stroke="#a090a0" stroke-width="1" stroke-dasharray="1,3" shape-rendering="crispEdges"/>
<line x1="48.5" y1="21" x2="48.5" y2="62" stroke="#a090a0" stroke-width="1" stroke-dasharray="1,3" shape-rendering="crispEdges"/>
<polyline points="0,46.6 15,45.6 30,46 42,47.8 55,49.4 70,48.6 85,45.6 96,43.4" fill="none" stroke="#f01010" stroke-width="1.3" />
<polyline points="0,47.4 18,46 32,46.4 45,48.4 58,50 72,49 86,46.6 96,45" fill="none" stroke="#f01010" stroke-width="1" />
<polyline points="38,47.5 48,49.8 60,50.3 72,48.5 82,46.8" fill="none" stroke="#30b060" stroke-width="1" />
<line x1="47" y1="46.5" x2="95" y2="46.5" stroke="#f01010" stroke-width="1" stroke-dasharray="3,3" shape-rendering="crispEdges"/>
<line x1="0" y1="58.5" x2="93" y2="58.5" stroke="#20a040" stroke-width="1" stroke-dasharray="3,3" shape-rendering="crispEdges"/>
<rect x="0" y="17" width="217" height="1" fill="#ccd6cc" />
<rect x="0" y="18" width="217" height="1" fill="#fff" />
<rect x="0" y="19" width="217" height="2" fill="#4a4a52" />
<rect x="0" y="65" width="217" height="1" fill="#ccd6cc" />
<rect x="0" y="66" width="217" height="1" fill="#fff" />
<rect x="0" y="67" width="217" height="2" fill="#4a4a52" />
<rect x="0" y="328" width="217" height="1" fill="#ccd6cc" />
<rect x="0" y="329" width="217" height="1" fill="#fff" />
<rect x="0" y="330" width="217" height="2" fill="#4a4a52" />
<rect x="0" y="410" width="217" height="1" fill="#ccd6cc" />
<rect x="0" y="411" width="217" height="1" fill="#fff" />
<rect x="0" y="412" width="217" height="2" fill="#4a4a52" />
<rect x="139" y="64" width="78" height="1" fill="#d4d8d0" />
<rect x="139" y="0" width="1" height="17" fill="#000" />
<rect x="139" y="21" width="1" height="44" fill="#000" />
<rect x="139" y="69" width="1" height="259" fill="#000" />
<rect x="139" y="332" width="1" height="78" fill="#000" />
<rect x="139" y="414" width="1" height="54" fill="#000" />
<text x="4.2" y="82.218" font-size="11" font-weight="normal" fill="#101010" text-anchor="start" textLength="110.3" lengthAdjust="spacingAndGlyphs" >Signale Abstandstest 3</text>
<rect x="0" y="76" width="2" height="1" fill="#2060ff" />
<rect x="0" y="79" width="2" height="1" fill="#2060ff" />
<g clip-path="url(#clipEV)">
<text x="128" y="82.218" font-size="11" font-weight="normal" fill="#101010" text-anchor="start" >EW</text>
</g>
<line x1="3" y1="119.5" x2="139" y2="119.5" stroke="#a090a0" stroke-width="1" stroke-dasharray="1,3" shape-rendering="crispEdges"/>
<rect x="139" y="119" width="4" height="1" fill="#000" />
<rect x="139" y="136" width="3" height="1" fill="#000" />
<text x="146" y="123.104" font-size="11.55" font-weight="bold" fill="#000" text-anchor="start" textLength="46.5" lengthAdjust="spacingAndGlyphs" >17.580,00</text>
<line x1="3" y1="153.5" x2="139" y2="153.5" stroke="#a090a0" stroke-width="1" stroke-dasharray="1,3" shape-rendering="crispEdges"/>
<rect x="139" y="153" width="4" height="1" fill="#000" />
<rect x="139" y="170" width="3" height="1" fill="#000" />
<text x="146" y="157.104" font-size="11.55" font-weight="bold" fill="#000" text-anchor="start" textLength="46.5" lengthAdjust="spacingAndGlyphs" >17.575,00</text>
<line x1="3" y1="187.5" x2="139" y2="187.5" stroke="#a090a0" stroke-width="1" stroke-dasharray="1,3" shape-rendering="crispEdges"/>
<rect x="139" y="187" width="4" height="1" fill="#000" />
<rect x="139" y="204" width="3" height="1" fill="#000" />
<text x="146" y="191.104" font-size="11.55" font-weight="bold" fill="#000" text-anchor="start" textLength="46.5" lengthAdjust="spacingAndGlyphs" >17.570,00</text>
<line x1="3" y1="221.5" x2="139" y2="221.5" stroke="#a090a0" stroke-width="1" stroke-dasharray="1,3" shape-rendering="crispEdges"/>
<rect x="139" y="221" width="4" height="1" fill="#000" />
<rect x="139" y="238" width="3" height="1" fill="#000" />
<text x="146" y="225.104" font-size="11.55" font-weight="bold" fill="#000" text-anchor="start" textLength="46.5" lengthAdjust="spacingAndGlyphs" >17.565,00</text>
<line x1="3" y1="255.5" x2="139" y2="255.5" stroke="#a090a0" stroke-width="1" stroke-dasharray="1,3" shape-rendering="crispEdges"/>
<rect x="139" y="255" width="4" height="1" fill="#000" />
<rect x="139" y="272" width="3" height="1" fill="#000" />
<text x="146" y="259.104" font-size="11.55" font-weight="bold" fill="#000" text-anchor="start" textLength="46.5" lengthAdjust="spacingAndGlyphs" >17.560,00</text>
<line x1="3" y1="289.5" x2="139" y2="289.5" stroke="#a090a0" stroke-width="1" stroke-dasharray="1,3" shape-rendering="crispEdges"/>
<rect x="139" y="289" width="4" height="1" fill="#000" />
<rect x="139" y="306" width="3" height="1" fill="#000" />
<text x="146" y="293.104" font-size="11.55" font-weight="bold" fill="#000" text-anchor="start" textLength="46.5" lengthAdjust="spacingAndGlyphs" >17.555,00</text>
<line x1="3" y1="323.5" x2="139" y2="323.5" stroke="#a090a0" stroke-width="1" stroke-dasharray="1,3" shape-rendering="crispEdges"/>
<rect x="139" y="323" width="4" height="1" fill="#000" />
<text x="146" y="327.104" font-size="11.55" font-weight="bold" fill="#000" text-anchor="start" textLength="46.5" lengthAdjust="spacingAndGlyphs" >17.550,00</text>
<line x1="48.5" y1="88" x2="48.5" y2="328" stroke="#a090a0" stroke-width="1" stroke-dasharray="1,3" shape-rendering="crispEdges"/>
<path d="M141 206.5 L147.5 200 L216 200 L216 213 L147.5 213 Z" fill="#00f800"/>
<text x="149" y="210.704" font-size="11.55" font-weight="bold" fill="#fff" text-anchor="start" textLength="46.5" lengthAdjust="spacingAndGlyphs" >17.567,23</text>
<rect x="198" y="214" width="18" height="12" fill="#00f800" />
<text x="201" y="224.318" font-size="11" font-weight="bold" fill="#fff" text-anchor="start" >9s</text>
<line x1="0.5" y1="193" x2="0.5" y2="220" stroke="#ff00ff" stroke-width="1" stroke-dasharray="1,1" shape-rendering="crispEdges"/>
<line x1="12.5" y1="193" x2="12.5" y2="212" stroke="#ff00ff" stroke-width="1" stroke-dasharray="1,1" shape-rendering="crispEdges"/>
<line x1="24.5" y1="193" x2="24.5" y2="207" stroke="#ff00ff" stroke-width="1" stroke-dasharray="1,1" shape-rendering="crispEdges"/>
<line x1="36.5" y1="193" x2="36.5" y2="209" stroke="#ff00ff" stroke-width="1" stroke-dasharray="1,1" shape-rendering="crispEdges"/>
<line x1="48.5" y1="193" x2="48.5" y2="216" stroke="#ff00ff" stroke-width="1" stroke-dasharray="1,1" shape-rendering="crispEdges"/>
<line x1="60.5" y1="193" x2="60.5" y2="216" stroke="#ff00ff" stroke-width="1" stroke-dasharray="1,1" shape-rendering="crispEdges"/>
<line x1="72.5" y1="193" x2="72.5" y2="204" stroke="#ff00ff" stroke-width="1" stroke-dasharray="1,1" shape-rendering="crispEdges"/>
<line x1="84.5" y1="193" x2="84.5" y2="202" stroke="#ff00ff" stroke-width="1" stroke-dasharray="1,1" shape-rendering="crispEdges"/>
<line x1="96.5" y1="193" x2="96.5" y2="212" stroke="#ff00ff" stroke-width="1" stroke-dasharray="1,1" shape-rendering="crispEdges"/>
<line x1="108.5" y1="193" x2="108.5" y2="212" stroke="#ff00ff" stroke-width="1" stroke-dasharray="1,1" shape-rendering="crispEdges"/>
<polyline points="0,187.5 25,187.5 35,191.5" fill="none" stroke="#ff30ff" stroke-width="1.5" />
<rect x="0" y="190" width="105" height="3" fill="#ff0030" />
<polyline points="0,175 18,183 40,196 60,209 80,225 97,236 107,240.5" fill="none" stroke="#1010f0" stroke-width="1.1" stroke-dasharray="4,4" />
<polyline points="17,216.5 80,216.5 92,212.5 109,212.5" fill="none" stroke="#20e020" stroke-width="1.4" />
<polyline points="6,221 17,218 20,216.5" fill="none" stroke="#20e020" stroke-width="1.2" />
<polyline points="3,251.5 14,250.5 27,250 38,247.5 46,242 52,239.5 60,240 70,233 78,231 84,236.5 95,238.5 109,238.5" fill="none" stroke="#20c020" stroke-width="1" stroke-dasharray="3,3" />
<polyline points="4,233 12,239 20,245 30,250.5 42,254 50,255.5 56,252 65,246.5 75,242.5 84,240.5 95,240.5 109,240.5" fill="none" stroke="#f01010" stroke-width="1" stroke-dasharray="3,3" />
<polyline points="0,251.5 12,246 25,240 79,240 88,236 97,231 109,231" fill="none" stroke="#1010e0" stroke-width="2.5" />
<rect x="-4" y="220" width="9" height="22" fill="#000" />
<rect x="-4" y="222" width="7" height="18" fill="#fff" />
<rect x="0" y="242" width="2" height="2" fill="#000" />
<rect x="12" y="211" width="1" height="25" fill="#00ff00" />
<rect x="8" y="220" width="9" height="12" fill="#00ff00" />
<rect x="24" y="203" width="1" height="29" fill="#00ff00" />
<rect x="20" y="207" width="9" height="25" fill="#00ff00" />
<rect x="21" y="208" width="7" height="23" fill="#fff" />
<rect x="36" y="209" width="1" height="54" fill="#00ff00" />
<rect x="32" y="209" width="9" height="49" fill="#00ff00" />
<rect x="48" y="258" width="1" height="17" fill="#ff0000" />
<rect x="44" y="258" width="9" height="13" fill="#ff0000" />
<rect x="60" y="233" width="1" height="42" fill="#ff0000" />
<rect x="56" y="233" width="9" height="38" fill="#ff0000" />
<rect x="57" y="234" width="7" height="36" fill="#fff" />
<rect x="72" y="204" width="1" height="29" fill="#00ff00" />
<rect x="68" y="222" width="9" height="10" fill="#00ff00" />
<rect x="69" y="223" width="7" height="8" fill="#fff" />
<rect x="84" y="201" width="1" height="27" fill="#00ff00" />
<rect x="80" y="201" width="9" height="24" fill="#00ff00" />
<rect x="81" y="202" width="7" height="22" fill="#fff" />
<rect x="96" y="188" width="1" height="24" fill="#00ff00" />
<rect x="92" y="188" width="9" height="14" fill="#00ff00" />
<rect x="93" y="189" width="7" height="12" fill="#fff" />
<rect x="108" y="185" width="1" height="27" fill="#ff0000" />
<rect x="104" y="187" width="9" height="20" fill="#ff0000" />
<circle cx="12.6" cy="189.3" r="3.6" fill="#00f0ff"/>
<circle cx="36.8" cy="186.3" r="3.6" fill="#00f0ff"/>
<circle cx="96.8" cy="227.4" r="3.6" fill="#00f0ff"/>
<circle cx="25" cy="196.3" r="1.3" fill="#909090"/>
<circle cx="60.7" cy="282.5" r="1.3" fill="#909090"/>
<line x1="48.5" y1="332" x2="48.5" y2="410" stroke="#a090a0" stroke-width="1" stroke-dasharray="1,3" shape-rendering="crispEdges"/>
<line x1="112" y1="371.5" x2="139" y2="371.5" stroke="#a090a0" stroke-width="1" stroke-dasharray="1,3" shape-rendering="crispEdges"/>
<rect x="139" y="371" width="4" height="1" fill="#000" />
<text x="146" y="375.504" font-size="11.55" font-weight="bold" fill="#000" text-anchor="start" textLength="32" lengthAdjust="spacingAndGlyphs" >1,0000</text>
<circle cx="1.3" cy="356.6" r="3.7" fill="#ffee00"/>
<circle cx="13.3" cy="356.6" r="3.7" fill="#ffee00"/>
<circle cx="24.9" cy="356.6" r="3.7" fill="#ffee00"/>
<circle cx="37" cy="356.6" r="3.7" fill="#ff0000"/>
<circle cx="49" cy="356.6" r="3.7" fill="#ff0000"/>
<circle cx="61" cy="356.6" r="3.7" fill="#ffee00"/>
<circle cx="72.9" cy="356.6" r="3.7" fill="#00f000"/>
<circle cx="84.9" cy="356.6" r="3.7" fill="#00f000"/>
<circle cx="96.8" cy="356.6" r="3.7" fill="#00f000"/>
<circle cx="109" cy="356.6" r="3.7" fill="#00f000"/>
<circle cx="1.3" cy="363.2" r="3.7" fill="#000"/>
<circle cx="13.3" cy="363.2" r="3.7" fill="#00f000"/>
<circle cx="24.9" cy="363.2" r="3.7" fill="#00f000"/>
<circle cx="37" cy="363.2" r="3.7" fill="#00f000"/>
<circle cx="49" cy="363.2" r="3.7" fill="#ff0000"/>
<circle cx="61" cy="363.2" r="3.7" fill="#ff0000"/>
<circle cx="72.9" cy="363.2" r="3.7" fill="#00f000"/>
<circle cx="84.9" cy="363.2" r="3.7" fill="#00f000"/>
<circle cx="96.8" cy="363.2" r="3.7" fill="#00f000"/>
<circle cx="109" cy="363.2" r="3.7" fill="#00f000"/>
<circle cx="1.3" cy="371.4" r="3.7" fill="#ff0000"/>
<circle cx="13.3" cy="371.4" r="3.7" fill="#ff0000"/>
<circle cx="24.9" cy="371.4" r="3.7" fill="#ff0000"/>
<circle cx="37" cy="371.4" r="3.7" fill="#ff0000"/>
<circle cx="49" cy="371.4" r="3.7" fill="#ff0000"/>
<circle cx="61" cy="371.4" r="3.7" fill="#ff0000"/>
<circle cx="72.9" cy="371.4" r="3.7" fill="#ff0000"/>
<circle cx="84.9" cy="371.4" r="3.7" fill="#ff0000"/>
<circle cx="96.8" cy="371.4" r="3.7" fill="#ff0000"/>
<circle cx="109" cy="371.4" r="3.7" fill="#ff0000"/>
<circle cx="1.3" cy="379.2" r="3.7" fill="#000"/>
<circle cx="13.3" cy="379.2" r="3.7" fill="#000"/>
<circle cx="24.9" cy="379.2" r="3.7" fill="#000"/>
<circle cx="37" cy="379.2" r="3.7" fill="#000"/>
<circle cx="49" cy="379.2" r="3.7" fill="#000"/>
<circle cx="61" cy="379.2" r="3.7" fill="#000"/>
<circle cx="72.9" cy="379.2" r="3.7" fill="#000"/>
<circle cx="84.9" cy="379.2" r="3.7" fill="#000"/>
<circle cx="96.8" cy="379.2" r="3.7" fill="#000"/>
<circle cx="109" cy="379.2" r="3.7" fill="#000"/>
<circle cx="1.3" cy="388" r="3.7" fill="#000"/>
<circle cx="13.3" cy="388" r="3.7" fill="#000"/>
<circle cx="24.9" cy="388" r="3.7" fill="#000"/>
<circle cx="37" cy="388" r="3.7" fill="#000"/>
<circle cx="49" cy="388" r="3.7" fill="#00f000"/>
<circle cx="61" cy="388" r="3.7" fill="#00f000"/>
<circle cx="72.9" cy="388" r="3.7" fill="#00f000"/>
<circle cx="84.9" cy="388" r="3.7" fill="#00f000"/>
<circle cx="96.8" cy="388" r="3.7" fill="#00f000"/>
<circle cx="109" cy="388" r="3.7" fill="#00f000"/>
<circle cx="1.3" cy="399.5" r="3.7" fill="#ff0000"/>
<circle cx="13.3" cy="399.5" r="3.7" fill="#ff0000"/>
<circle cx="24.9" cy="399.5" r="3.7" fill="#ff0000"/>
<circle cx="37" cy="399.5" r="3.7" fill="#ff0000"/>
<circle cx="49" cy="399.5" r="3.7" fill="#ff0000"/>
<circle cx="61" cy="399.5" r="3.7" fill="#ff0000"/>
<circle cx="72.9" cy="399.5" r="3.7" fill="#ff0000"/>
<circle cx="84.9" cy="399.5" r="3.7" fill="#ff0000"/>
<circle cx="96.8" cy="399.5" r="3.7" fill="#ff0000"/>
<circle cx="109" cy="399.5" r="3.7" fill="#ff0000"/>
<line x1="48.5" y1="414" x2="48.5" y2="459" stroke="#a090a0" stroke-width="1" stroke-dasharray="1,3" shape-rendering="crispEdges"/>
<circle cx="1.3" cy="450.2" r="3.7" fill="#00f000"/>
<circle cx="13.3" cy="450.2" r="3.7" fill="#ff0000"/>
<circle cx="24.9" cy="450.2" r="3.7" fill="#00f000"/>
<circle cx="37" cy="450.2" r="3.7" fill="#00f000"/>
<circle cx="49" cy="450.2" r="3.7" fill="#00f000"/>
<circle cx="61" cy="450.2" r="3.7" fill="#00f000"/>
<circle cx="72.9" cy="450.2" r="3.7" fill="#00f000"/>
<circle cx="84.9" cy="450.2" r="3.7" fill="#00f000"/>
<circle cx="96.8" cy="450.2" r="3.7" fill="#00f000"/>
<rect x="48" y="459" width="95" height="1" fill="#000" />
<text x="145.3" y="463.204" font-size="11.55" font-weight="bold" fill="#000" text-anchor="start" textLength="21.5" lengthAdjust="spacingAndGlyphs" >0,00</text>
<rect x="48" y="459" width="1" height="5" fill="#000" />
<text x="63.3" y="473.204" font-size="11.55" font-weight="bold" fill="#000" text-anchor="middle" textLength="27" lengthAdjust="spacingAndGlyphs" >20:00</text>
<rect x="140" y="468" width="77" height="1" fill="#d4dcd4" />
<rect x="140" y="469" width="77" height="1" fill="#fff" />
<rect x="140" y="470" width="77" height="1" fill="#d4dcd4" />
<rect x="140" y="471" width="77" height="1" fill="#fff" />
<rect x="140" y="472" width="77" height="1" fill="#d4dcd4" />
<rect x="140" y="473" width="77" height="1" fill="#fff" />
<rect x="140" y="474" width="77" height="1" fill="#d4dcd4" />
<rect x="140" y="475" width="77" height="1" fill="#fff" />
<rect x="140" y="476" width="77" height="1" fill="#d4dcd4" />
<rect x="0" y="477" width="217" height="15" fill="url(#track)" />
<rect x="134" y="477" width="67" height="15" fill="#d4d0c8" />
<rect x="134" y="477" width="67" height="1" fill="#fff" />
<rect x="134" y="477" width="1" height="15" fill="#fff" />
<rect x="134" y="491" width="67" height="1" fill="#404040" />
<rect x="200" y="477" width="1" height="15" fill="#404040" />
<rect x="135" y="490" width="65" height="1" fill="#808080" />
<rect x="199" y="478" width="1" height="13" fill="#808080" />
<rect x="201" y="477" width="16" height="15" fill="#d4d0c8" />
<rect x="201" y="477" width="16" height="1" fill="#fff" />
<rect x="201" y="477" width="1" height="15" fill="#fff" />
<rect x="201" y="491" width="16" height="1" fill="#404040" />
<rect x="216" y="477" width="1" height="15" fill="#404040" />
<rect x="202" y="490" width="14" height="1" fill="#808080" />
<rect x="215" y="478" width="1" height="13" fill="#808080" />
<path d="M207 480.5v8l4-4z" fill="#000"/>
<rect x="217" y="0" width="2" height="496" fill="#d0d8d0" />
<rect x="219" y="0" width="1" height="496" fill="#d4d0c8" />
<rect x="220" y="0" width="1" height="496" fill="#404040" />
<rect x="0" y="492" width="220" height="3" fill="#d4d0c8" />
<rect x="0" y="492" width="219" height="1" fill="#d0d8d0" />
<rect x="0" y="495" width="221" height="1" fill="#404040" />
</svg>
</body></html>
